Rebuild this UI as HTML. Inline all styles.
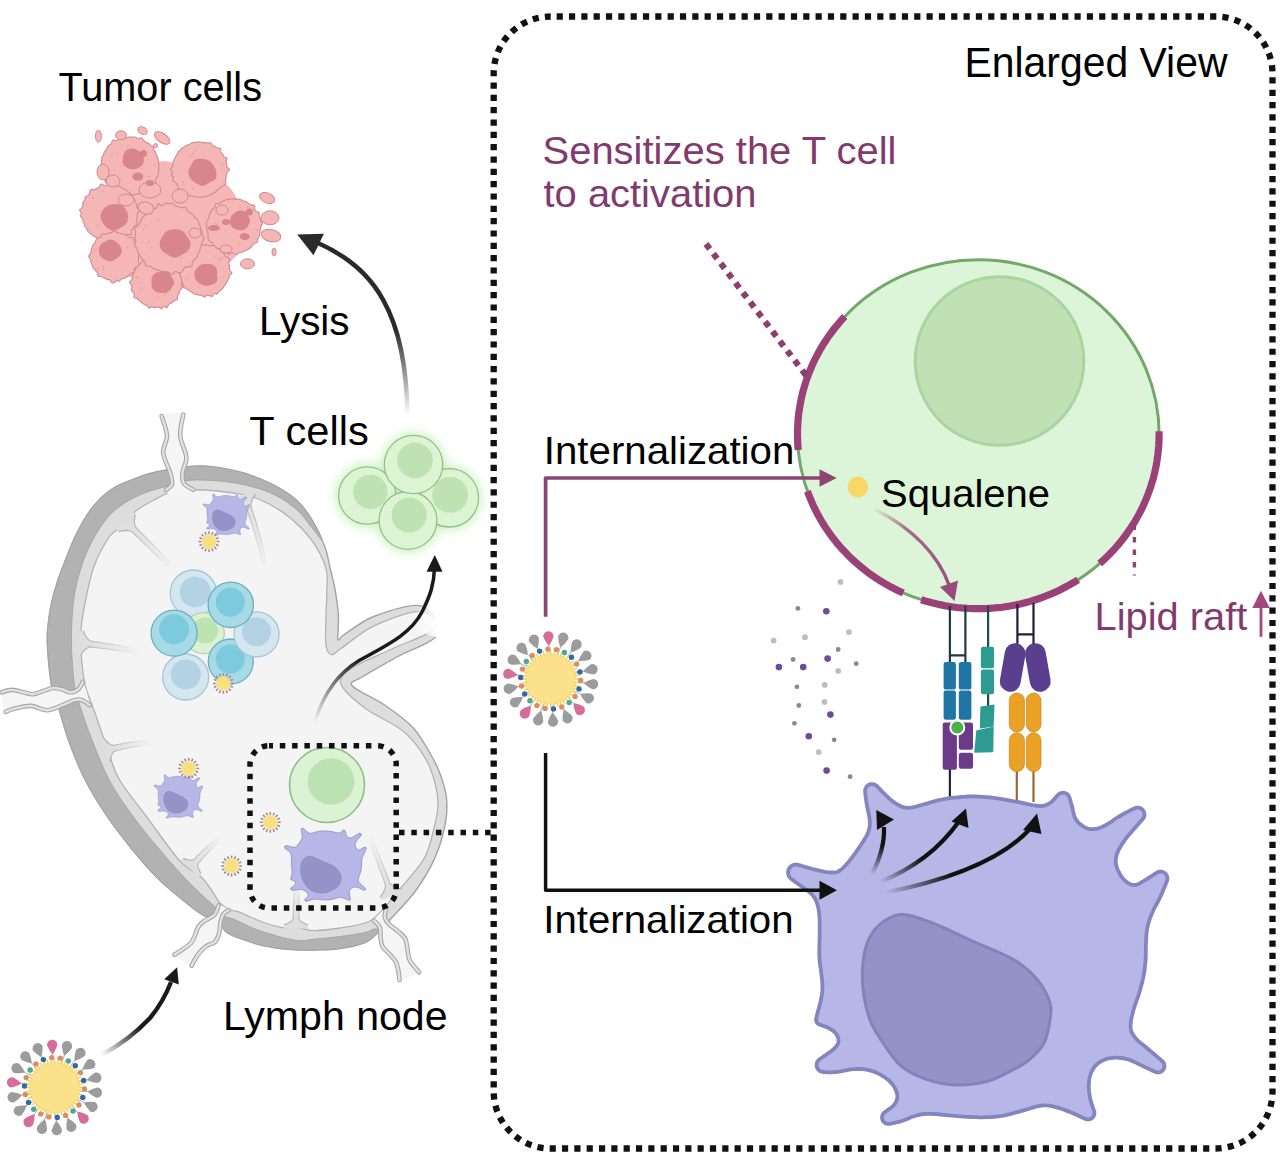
<!DOCTYPE html>
<html><head><meta charset="utf-8"><title>Squalene nanoparticle T cell activation</title>
<style>html,body{margin:0;padding:0;background:#fff;width:1280px;height:1163px;overflow:hidden}
svg{display:block}
text{font-family:"Liberation Sans", sans-serif}</style></head>
<body><svg width="1280" height="1163" viewBox="0 0 1280 1163"><defs>
<linearGradient id="lysisg" x1="0" y1="1" x2="0" y2="0" gradientUnits="objectBoundingBox">
 <stop offset="0" stop-color="#222" stop-opacity="0"/>
 <stop offset="0.35" stop-color="#222" stop-opacity="0.9"/>
 <stop offset="1" stop-color="#222"/>
</linearGradient>
<filter id="glow" x="-50%" y="-50%" width="200%" height="200%"><feGaussianBlur stdDeviation="6"/></filter>
<filter id="soft" x="-20%" y="-20%" width="140%" height="140%"><feGaussianBlur stdDeviation="0.6"/></filter>
<g id="np"><path d="M32.8,4.0 Q37.1,8.1 41.7,10.3 A5.2,5.2 0 1 0 42.9,-0.1 Q38.0,1.0 32.8,4.0 Z" fill="#9c9c9c"/>
<line x1="25.8" y1="3.1" x2="33.8" y2="4.1" stroke="#8fb8d8" stroke-width="1"/>
<path d="M29.4,14.9 Q32.1,20.3 35.6,23.9 A5.2,5.2 0 1 0 40.3,14.6 Q35.3,13.9 29.4,14.9 Z" fill="#9c9c9c"/>
<line x1="23.2" y1="11.8" x2="30.3" y2="15.4" stroke="#8fb8d8" stroke-width="1"/>
<path d="M22.6,24.1 Q23.2,30.0 25.3,34.6 A5.2,5.2 0 1 0 32.9,27.5 Q28.5,25.1 22.6,24.1 Z" fill="#d66d98"/>
<line x1="17.8" y1="19.0" x2="23.2" y2="24.8" stroke="#8fb8d8" stroke-width="1"/>
<path d="M13.0,30.3 Q11.5,36.2 11.9,41.2 A5.2,5.2 0 1 0 21.5,37.1 Q18.2,33.3 13.0,30.3 Z" fill="#9c9c9c"/>
<line x1="10.2" y1="23.9" x2="13.4" y2="31.3" stroke="#8fb8d8" stroke-width="1"/>
<path d="M1.8,33.0 Q-1.5,37.9 -2.9,42.8 A5.2,5.2 0 1 0 7.5,42.3 Q5.7,37.5 1.8,33.0 Z" fill="#9c9c9c"/>
<line x1="1.4" y1="26.0" x2="1.9" y2="33.9" stroke="#8fb8d8" stroke-width="1"/>
<path d="M-9.6,31.6 Q-14.4,35.1 -17.3,39.3 A5.2,5.2 0 1 0 -7.4,42.3 Q-7.5,37.2 -9.6,31.6 Z" fill="#9c9c9c"/>
<line x1="-7.5" y1="24.9" x2="-9.9" y2="32.5" stroke="#8fb8d8" stroke-width="1"/>
<path d="M-19.8,26.4 Q-25.6,28.1 -29.7,31.0 A5.2,5.2 0 1 0 -21.4,37.2 Q-19.8,32.4 -19.8,26.4 Z" fill="#d66d98"/>
<line x1="-15.6" y1="20.8" x2="-20.4" y2="27.2" stroke="#8fb8d8" stroke-width="1"/>
<path d="M-27.6,18.0 Q-33.6,17.6 -38.5,18.9 A5.2,5.2 0 1 0 -32.8,27.6 Q-29.7,23.7 -27.6,18.0 Z" fill="#9c9c9c"/>
<line x1="-21.8" y1="14.2" x2="-28.5" y2="18.6" stroke="#8fb8d8" stroke-width="1"/>
<path d="M-32.1,7.5 Q-37.6,5.1 -42.7,4.6 A5.2,5.2 0 1 0 -40.3,14.7 Q-36.0,12.1 -32.1,7.5 Z" fill="#9c9c9c"/>
<line x1="-25.3" y1="5.9" x2="-33.1" y2="7.7" stroke="#8fb8d8" stroke-width="1"/>
<path d="M-32.8,-4.0 Q-37.1,-8.1 -41.7,-10.3 A5.2,5.2 0 1 0 -42.9,0.1 Q-38.0,-1.0 -32.8,-4.0 Z" fill="#d66d98"/>
<line x1="-25.8" y1="-3.1" x2="-33.8" y2="-4.1" stroke="#8fb8d8" stroke-width="1"/>
<path d="M-29.4,-14.9 Q-32.1,-20.3 -35.6,-23.9 A5.2,5.2 0 1 0 -40.3,-14.6 Q-35.3,-13.9 -29.4,-14.9 Z" fill="#9c9c9c"/>
<line x1="-23.2" y1="-11.8" x2="-30.3" y2="-15.4" stroke="#8fb8d8" stroke-width="1"/>
<path d="M-22.6,-24.1 Q-23.2,-30.0 -25.3,-34.6 A5.2,5.2 0 1 0 -32.9,-27.5 Q-28.5,-25.1 -22.6,-24.1 Z" fill="#9c9c9c"/>
<line x1="-17.8" y1="-19.0" x2="-23.2" y2="-24.8" stroke="#8fb8d8" stroke-width="1"/>
<path d="M-13.0,-30.3 Q-11.5,-36.2 -11.9,-41.2 A5.2,5.2 0 1 0 -21.5,-37.1 Q-18.2,-33.3 -13.0,-30.3 Z" fill="#9c9c9c"/>
<line x1="-10.2" y1="-23.9" x2="-13.4" y2="-31.3" stroke="#8fb8d8" stroke-width="1"/>
<path d="M-1.8,-33.0 Q1.5,-37.9 2.9,-42.8 A5.2,5.2 0 1 0 -7.5,-42.3 Q-5.7,-37.5 -1.8,-33.0 Z" fill="#d66d98"/>
<line x1="-1.4" y1="-26.0" x2="-1.9" y2="-33.9" stroke="#8fb8d8" stroke-width="1"/>
<path d="M9.6,-31.6 Q14.4,-35.1 17.3,-39.3 A5.2,5.2 0 1 0 7.4,-42.3 Q7.5,-37.2 9.6,-31.6 Z" fill="#9c9c9c"/>
<line x1="7.5" y1="-24.9" x2="9.9" y2="-32.5" stroke="#8fb8d8" stroke-width="1"/>
<path d="M19.8,-26.4 Q25.6,-28.1 29.7,-31.0 A5.2,5.2 0 1 0 21.4,-37.2 Q19.8,-32.4 19.8,-26.4 Z" fill="#9c9c9c"/>
<line x1="15.6" y1="-20.8" x2="20.4" y2="-27.2" stroke="#8fb8d8" stroke-width="1"/>
<path d="M27.6,-18.0 Q33.6,-17.6 38.5,-18.9 A5.2,5.2 0 1 0 32.8,-27.6 Q29.7,-23.7 27.6,-18.0 Z" fill="#9c9c9c"/>
<line x1="21.8" y1="-14.2" x2="28.5" y2="-18.6" stroke="#8fb8d8" stroke-width="1"/>
<path d="M32.1,-7.5 Q37.6,-5.1 42.7,-4.6 A5.2,5.2 0 1 0 40.3,-14.7 Q36.0,-12.1 32.1,-7.5 Z" fill="#9c9c9c"/>
<line x1="25.3" y1="-5.9" x2="33.1" y2="-7.7" stroke="#8fb8d8" stroke-width="1"/>
<circle r="26" fill="#fbe49a"/>
<path d="M18.0,0.0 L29.0,0.0 M17.8,2.3 L28.8,3.8 M17.4,4.7 L28.0,7.5 M16.6,6.9 L26.8,11.1 M15.6,9.0 L25.1,14.5 M14.3,11.0 L23.0,17.7 M12.7,12.7 L20.5,20.5 M11.0,14.3 L17.7,23.0 M9.0,15.6 L14.5,25.1 M6.9,16.6 L11.1,26.8 M4.7,17.4 L7.5,28.0 M2.3,17.8 L3.8,28.8 M0.0,18.0 L0.0,29.0 M-2.3,17.8 L-3.8,28.8 M-4.7,17.4 L-7.5,28.0 M-6.9,16.6 L-11.1,26.8 M-9.0,15.6 L-14.5,25.1 M-11.0,14.3 L-17.7,23.0 M-12.7,12.7 L-20.5,20.5 M-14.3,11.0 L-23.0,17.7 M-15.6,9.0 L-25.1,14.5 M-16.6,6.9 L-26.8,11.1 M-17.4,4.7 L-28.0,7.5 M-17.8,2.3 L-28.8,3.8 M-18.0,0.0 L-29.0,0.0 M-17.8,-2.3 L-28.8,-3.8 M-17.4,-4.7 L-28.0,-7.5 M-16.6,-6.9 L-26.8,-11.1 M-15.6,-9.0 L-25.1,-14.5 M-14.3,-11.0 L-23.0,-17.7 M-12.7,-12.7 L-20.5,-20.5 M-11.0,-14.3 L-17.7,-23.0 M-9.0,-15.6 L-14.5,-25.1 M-6.9,-16.6 L-11.1,-26.8 M-4.7,-17.4 L-7.5,-28.0 M-2.3,-17.8 L-3.8,-28.8 M-0.0,-18.0 L-0.0,-29.0 M2.3,-17.8 L3.8,-28.8 M4.7,-17.4 L7.5,-28.0 M6.9,-16.6 L11.1,-26.8 M9.0,-15.6 L14.5,-25.1 M11.0,-14.3 L17.7,-23.0 M12.7,-12.7 L20.5,-20.5 M14.3,-11.0 L23.0,-17.7 M15.6,-9.0 L25.1,-14.5 M16.6,-6.9 L26.8,-11.1 M17.4,-4.7 L28.0,-7.5 M17.8,-2.3 L28.8,-3.8" stroke="#f3d06a" stroke-width="1.3"/>
<circle r="24" fill="#fbe28a"/>
<circle cx="30.0" cy="1.5" r="2.7" fill="#e08d5e"/>
<circle cx="28.3" cy="9.9" r="2.7" fill="#2f6aa6"/>
<circle cx="24.4" cy="17.5" r="2.7" fill="#e08d5e"/>
<circle cx="18.5" cy="23.6" r="2.7" fill="#4aa79b"/>
<circle cx="11.1" cy="27.9" r="2.7" fill="#e08d5e"/>
<circle cx="2.8" cy="29.9" r="2.7" fill="#2f6aa6"/>
<circle cx="-5.7" cy="29.4" r="2.7" fill="#e08d5e"/>
<circle cx="-13.8" cy="26.6" r="2.7" fill="#e08d5e"/>
<circle cx="-20.8" cy="21.7" r="2.7" fill="#4aa79b"/>
<circle cx="-26.0" cy="14.9" r="2.7" fill="#2f6aa6"/>
<circle cx="-29.2" cy="7.0" r="2.7" fill="#e08d5e"/>
<circle cx="-30.0" cy="-1.5" r="2.7" fill="#2f6aa6"/>
<circle cx="-28.3" cy="-9.9" r="2.7" fill="#e08d5e"/>
<circle cx="-24.4" cy="-17.5" r="2.7" fill="#4aa79b"/>
<circle cx="-18.5" cy="-23.6" r="2.7" fill="#e08d5e"/>
<circle cx="-11.1" cy="-27.9" r="2.7" fill="#2f6aa6"/>
<circle cx="-2.8" cy="-29.9" r="2.7" fill="#e08d5e"/>
<circle cx="5.7" cy="-29.4" r="2.7" fill="#e08d5e"/>
<circle cx="13.8" cy="-26.6" r="2.7" fill="#4aa79b"/>
<circle cx="20.8" cy="-21.7" r="2.7" fill="#2f6aa6"/>
<circle cx="26.0" cy="-14.9" r="2.7" fill="#e08d5e"/>
<circle cx="29.2" cy="-7.0" r="2.7" fill="#2f6aa6"/></g><g id="snp"><path d="M7.6,0.0 L10.4,0.0 M7.0,2.9 L9.6,4.0 M5.4,5.4 L7.4,7.4 M2.9,7.0 L4.0,9.6 M0.0,7.6 L0.0,10.4 M-2.9,7.0 L-4.0,9.6 M-5.4,5.4 L-7.4,7.4 M-7.0,2.9 L-9.6,4.0 M-7.6,0.0 L-10.4,0.0 M-7.0,-2.9 L-9.6,-4.0 M-5.4,-5.4 L-7.4,-7.4 M-2.9,-7.0 L-4.0,-9.6 M-0.0,-7.6 L-0.0,-10.4 M2.9,-7.0 L4.0,-9.6 M5.4,-5.4 L7.4,-7.4 M7.0,-2.9 L9.6,-4.0" stroke="#9c8596" stroke-width="1.5"/><path d="M0,0 L7.6,0.0 M0,0 L7.3,2.0 M0,0 L6.6,3.8 M0,0 L5.4,5.4 M0,0 L3.8,6.6 M0,0 L2.0,7.3 M0,0 L0.0,7.6 M0,0 L-2.0,7.3 M0,0 L-3.8,6.6 M0,0 L-5.4,5.4 M0,0 L-6.6,3.8 M0,0 L-7.3,2.0 M0,0 L-7.6,0.0 M0,0 L-7.3,-2.0 M0,0 L-6.6,-3.8 M0,0 L-5.4,-5.4 M0,0 L-3.8,-6.6 M0,0 L-2.0,-7.3 M0,0 L-0.0,-7.6 M0,0 L2.0,-7.3 M0,0 L3.8,-6.6 M0,0 L5.4,-5.4 M0,0 L6.6,-3.8 M0,0 L7.3,-2.0" stroke="#f6dc7a" stroke-width="1.2"/><circle r="6" fill="#f9e07f"/></g></defs>
<rect x="493.7" y="16.5" width="778.8" height="1132" rx="57" fill="none" stroke="#111" stroke-width="6.3" stroke-dasharray="6.2 6.13" stroke-dashoffset="6.4"/>
<path d="M165.2,470.2 C171.4,469.1 179.3,467.2 187.1,466.6 C194.9,466.0 202.6,465.6 211.9,466.6 C221.2,467.6 232.6,469.6 242.9,472.7 C253.2,475.8 264.8,480.5 273.8,485.1 C282.8,489.8 290.6,494.7 297.0,500.6 C303.4,506.5 307.9,513.0 312.5,520.7 C317.1,528.4 321.9,538.8 324.9,547.0 C327.9,555.2 328.9,563.2 330.5,570.0 C332.1,576.8 333.5,581.0 334.8,588.0 C336.1,595.0 337.6,605.0 338.2,612.0 C338.8,619.0 338.2,625.3 338.2,630.0 C338.2,634.7 336.9,639.3 338.0,640.0 C339.1,640.7 338.8,638.0 345.0,634.0 C351.2,630.0 362.3,620.7 375.0,616.0 C387.7,611.3 410.5,603.0 421.0,606.0 C431.5,609.0 442.2,625.4 438.0,634.0 C433.8,642.6 408.7,650.3 396.0,657.5 C383.3,664.7 369.3,672.2 362.0,677.0 C354.7,681.8 348.6,681.3 352.4,686.0 C356.1,690.7 374.4,698.1 384.5,705.0 C394.6,711.9 405.1,719.2 412.9,727.5 C420.6,735.8 426.4,747.1 431.0,755.0 C435.6,762.9 437.9,767.8 440.5,775.0 C443.1,782.2 445.7,790.0 446.5,798.0 C447.3,806.0 447.3,813.1 445.4,823.0 C443.5,832.9 440.0,846.2 435.1,857.4 C430.2,868.6 423.6,879.7 416.2,890.0 C408.8,900.3 396.8,912.3 390.4,919.3 C384.0,926.3 382.2,928.1 378.0,932.0 C373.8,935.9 371.3,939.8 365.0,942.5 C358.7,945.2 348.3,947.2 340.0,948.5 C331.7,949.8 321.7,949.8 315.0,950.0 C308.3,950.2 305.4,950.2 300.0,950.0 C294.6,949.8 287.5,949.3 282.5,948.8 C277.5,948.2 274.2,947.6 270.0,946.9 C265.8,946.2 261.7,945.5 257.5,944.4 C253.3,943.2 249.2,941.5 245.0,940.0 C240.8,938.5 236.0,937.3 232.5,935.6 C229.0,933.9 226.1,932.8 224.0,930.0 C221.9,927.2 223.4,921.4 220.0,919.0 C216.6,916.6 209.9,918.7 203.8,915.6 C197.7,912.5 190.9,906.7 183.2,900.4 C175.5,894.1 166.0,886.6 157.4,878.0 C148.8,869.4 140.2,859.4 131.6,848.8 C123.0,838.2 113.5,825.9 105.8,814.4 C98.1,802.9 91.4,792.2 85.2,780.0 C79.0,767.8 73.1,752.7 68.8,741.0 C64.5,729.3 62.2,719.2 59.3,710.0 C56.4,700.8 53.6,697.2 51.6,686.0 C49.6,674.8 47.8,653.5 47.3,643.0 C46.8,632.5 47.6,629.7 48.3,623.0 C49.0,616.3 50.0,609.7 51.5,603.0 C53.0,596.3 54.9,589.6 57.0,583.0 C59.1,576.4 60.9,571.6 64.1,563.5 C67.3,555.4 71.5,543.8 76.1,534.6 C80.7,525.4 85.8,515.8 91.8,508.2 C97.8,500.6 104.8,493.9 112.2,488.9 C119.6,483.9 130.0,480.7 136.3,478.1 C142.6,475.5 145.2,474.8 150.0,473.5 C154.8,472.2 159.0,471.3 165.2,470.2Z" fill="#dddddd" stroke="#a3a3a3" stroke-width="1.4"/>
<path d="M322.0,540.0 C322.0,538.7 316.7,527.3 312.5,520.7 C308.3,514.1 303.4,506.5 297.0,500.6 C290.6,494.7 282.8,489.8 273.8,485.1 C264.8,480.5 253.2,475.8 242.9,472.7 C232.6,469.6 221.2,467.6 211.9,466.6 C202.6,465.6 194.9,466.0 187.1,466.6 C179.3,467.2 171.4,469.1 165.2,470.2 C159.0,471.3 154.8,472.2 150.0,473.5 C145.2,474.8 142.6,475.5 136.3,478.1 C130.0,480.7 119.6,483.9 112.2,488.9 C104.8,493.9 97.8,500.6 91.8,508.2 C85.8,515.8 80.7,525.4 76.1,534.6 C71.5,543.8 67.3,555.4 64.1,563.5 C60.9,571.6 59.1,576.4 57.0,583.0 C54.9,589.6 53.0,596.3 51.5,603.0 C50.0,609.7 49.0,616.3 48.3,623.0 C47.6,629.7 46.8,632.5 47.3,643.0 C47.8,653.5 49.6,674.8 51.6,686.0 C53.6,697.2 56.4,700.8 59.3,710.0 C62.2,719.2 64.5,729.3 68.8,741.0 C73.1,752.7 79.0,767.8 85.2,780.0 C91.4,792.2 98.1,802.9 105.8,814.4 C113.5,825.9 123.0,838.2 131.6,848.8 C140.2,859.4 148.8,869.4 157.4,878.0 C166.0,886.6 175.5,894.1 183.2,900.4 C190.9,906.7 197.7,912.5 203.8,915.6 C209.9,918.7 216.6,916.6 220.0,919.0 C223.4,921.4 221.9,927.2 224.0,930.0 C226.1,932.8 229.0,933.9 232.5,935.6 C236.0,937.3 240.8,938.5 245.0,940.0 C249.2,941.5 253.3,943.2 257.5,944.4 C261.7,945.5 265.8,946.2 270.0,946.9 C274.2,947.6 277.5,948.2 282.5,948.8 C287.5,949.3 294.6,949.8 300.0,950.0 C305.4,950.2 308.3,950.2 315.0,950.0 C321.7,949.8 331.7,949.8 340.0,948.5 C348.3,947.2 358.3,945.4 365.0,942.5 C371.7,939.6 378.5,933.2 380.0,931.0 C381.5,928.8 376.5,928.8 374.0,929.0 C371.5,929.2 370.7,931.2 365.0,932.5 C359.3,933.8 348.3,935.4 340.0,936.5 C331.7,937.6 321.7,938.3 315.0,939.0 C308.3,939.7 305.4,940.9 300.0,940.6 C294.6,940.4 287.5,938.6 282.5,937.5 C277.5,936.4 274.2,935.0 270.0,933.8 C265.8,932.5 261.7,931.6 257.5,930.0 C253.3,928.4 249.2,926.3 245.0,924.4 C240.8,922.5 236.0,920.1 232.5,918.8 C229.0,917.4 227.1,918.1 224.0,916.0 C220.9,913.9 218.0,909.8 214.1,906.0 C210.2,902.2 205.6,898.5 200.4,893.5 C195.2,888.5 190.4,884.0 183.2,876.3 C176.0,868.5 166.0,857.3 157.4,847.0 C148.8,836.7 139.6,825.6 131.6,814.4 C123.6,803.2 116.0,792.8 109.2,780.0 C102.5,767.2 96.1,750.4 91.1,737.6 C86.1,724.8 81.8,711.5 79.1,703.2 C76.4,694.9 76.1,697.7 74.8,687.7 C73.5,677.7 71.6,657.6 71.4,643.0 C71.2,628.4 72.1,612.5 73.7,600.0 C75.3,587.5 77.9,578.0 80.9,568.3 C83.9,558.6 87.4,550.3 91.8,541.9 C96.2,533.5 102.0,524.2 107.4,517.8 C112.8,511.4 117.9,507.5 124.3,503.3 C130.7,499.1 138.7,495.4 145.9,492.5 C153.1,489.6 160.7,488.0 167.6,486.0 C174.5,484.0 179.7,481.4 187.1,480.5 C194.5,479.6 202.6,479.9 211.9,480.5 C221.2,481.1 232.6,482.1 242.9,484.4 C253.2,486.7 264.8,490.1 273.8,494.4 C282.8,498.6 290.6,504.2 297.0,509.9 C303.4,515.6 308.3,523.5 312.5,528.5 C316.7,533.5 322.0,541.3 322.0,540.0Z" fill="#b2b2b2" stroke="#a0a0a0" stroke-width="0.8"/>
<path d="M172.4,491.3 C178.4,489.7 183.6,489.9 190.2,489.8 C196.8,489.7 203.4,489.7 211.9,490.5 C220.4,491.3 233.6,493.0 241.3,494.4 C249.0,495.8 251.6,496.2 258.3,499.0 C265.0,501.8 274.4,506.5 281.6,511.4 C288.8,516.3 295.8,522.3 301.7,528.5 C307.6,534.7 313.1,541.6 317.2,548.6 C321.3,555.6 324.8,563.4 326.4,570.3 C328.0,577.2 327.0,582.1 326.9,590.0 C326.8,597.9 326.2,608.6 326.0,617.8 C325.8,627.0 325.0,638.9 325.9,645.0 C326.8,651.1 329.1,654.1 331.6,654.7 C334.1,655.3 333.8,653.4 341.0,648.5 C348.2,643.6 361.7,631.6 375.0,625.4 C388.3,619.2 411.2,610.9 421.0,611.5 C430.8,612.1 438.5,622.9 434.0,629.0 C429.5,635.1 407.7,641.5 394.0,648.0 C380.3,654.5 360.8,662.0 352.0,668.0 C343.2,674.0 338.7,677.2 341.0,684.0 C343.3,690.8 355.2,700.7 365.6,708.6 C376.0,716.5 393.3,722.8 403.4,731.3 C413.5,739.8 420.8,750.6 426.1,759.6 C431.5,768.6 433.5,777.4 435.5,785.0 C437.5,792.6 438.1,798.7 438.0,805.0 C437.9,811.3 437.3,814.3 435.1,823.0 C432.9,831.7 430.8,846.2 424.8,857.4 C418.8,868.6 406.9,880.4 399.0,890.0 C391.1,899.6 383.2,909.5 377.5,915.0 C371.8,920.5 371.2,920.8 365.0,923.0 C358.8,925.2 348.3,926.7 340.0,928.0 C331.7,929.3 321.2,930.5 315.0,930.6 C308.8,930.7 306.4,929.2 302.5,928.5 C298.6,927.8 294.7,926.6 291.9,926.5 C289.1,926.4 288.2,928.0 285.6,928.0 C283.0,928.0 279.9,927.2 276.3,926.3 C272.7,925.4 268.0,924.0 263.8,922.5 C259.6,921.0 255.5,919.3 251.3,917.5 C247.1,915.7 242.5,913.2 238.8,911.9 C235.1,910.6 232.1,911.0 229.0,909.5 C225.9,908.0 223.2,906.6 220.0,903.0 C216.8,899.4 213.3,892.5 210.0,888.0 C206.7,883.5 205.5,880.8 200.4,876.3 C195.3,871.8 188.3,870.2 179.7,860.8 C171.1,851.3 158.8,833.1 148.8,819.6 C138.8,806.1 126.3,791.4 119.6,780.0 C112.8,768.6 112.5,762.7 108.3,751.3 C104.1,739.9 98.6,723.5 94.6,711.8 C90.6,700.0 86.6,693.7 84.3,680.8 C82.0,667.9 80.6,647.9 80.8,634.4 C81.0,620.9 83.5,611.4 85.7,600.0 C87.9,588.6 90.6,576.0 94.2,565.9 C97.8,555.8 103.8,545.4 107.4,539.5 C111.0,533.6 112.7,533.4 116.0,530.5 C119.3,527.6 123.6,525.3 127.0,522.0 C130.4,518.7 131.7,514.3 136.3,510.6 C140.9,506.9 148.4,502.9 154.4,499.7 C160.4,496.5 166.4,492.9 172.4,491.3Z" fill="#f4f4f4" stroke="#b3b3b3" stroke-width="1.3"/>
<defs><linearGradient id="effg" gradientUnits="userSpaceOnUse" x1="412" y1="0" x2="436" y2="0"><stop offset="0" stop-color="#fff" stop-opacity="0"/><stop offset="1" stop-color="#fff"/></linearGradient></defs>
<path d="M416,613 L424,604 L446,604 L446,640 L433,636 L418,632 Z" fill="url(#effg)"/>
<defs><linearGradient id="tb1f" gradientUnits="userSpaceOnUse" x1="127.0" y1="523.0" x2="174.0" y2="570.0"><stop offset="0" stop-color="#dedede"/><stop offset="0.55" stop-color="#e8e8e8"/><stop offset="1" stop-color="#f4f4f4"/></linearGradient><linearGradient id="tb1s" gradientUnits="userSpaceOnUse" x1="127.0" y1="523.0" x2="174.0" y2="570.0"><stop offset="0" stop-color="#b0b0b0"/><stop offset="0.5" stop-color="#c6c6c6" stop-opacity="0.7"/><stop offset="1" stop-color="#d6d6d6" stop-opacity="0"/></linearGradient></defs>
<path d="M116.2,529.2 L118.7,531.7 L123.4,530.6 L127.2,530.4 L130.4,531.0 L132.7,532.5 L134.6,534.3 L136.6,536.2 L138.6,538.1 L140.5,540.0 L142.5,541.9 L144.4,543.8 L146.4,545.7 L148.4,547.6 L150.4,549.5 L152.4,551.5 L154.3,553.5 L156.3,555.4 L158.3,557.4 L160.3,559.4 L162.3,561.4 L164.3,563.4 L166.3,565.4 L168.3,567.5 L170.4,569.5 L172.4,571.6 L175.6,568.4 L173.6,566.3 L171.7,564.2 L169.7,562.2 L167.7,560.1 L165.8,558.0 L163.8,556.0 L161.8,553.9 L159.9,551.9 L157.9,549.9 L156.0,547.9 L154.0,545.9 L152.1,543.9 L150.2,541.9 L148.2,539.9 L146.3,538.0 L144.4,536.0 L142.5,534.1 L140.5,532.2 L138.6,530.3 L136.7,528.4 L135.2,526.1 L134.4,523.0 L134.5,519.0 L135.3,514.3 L132.8,511.9Z" fill="url(#tb1f)"/>
<path d="M118.7,531.7 L123.4,530.6 L127.2,530.4 L130.4,531.0 L132.7,532.5 L134.6,534.3 L136.6,536.2 L138.6,538.1 L140.5,540.0 L142.5,541.9 L144.4,543.8 L146.4,545.7 L148.4,547.6 L150.4,549.5 L152.4,551.5 L154.3,553.5 L156.3,555.4 L158.3,557.4 L160.3,559.4 L162.3,561.4 L164.3,563.4 L166.3,565.4 L168.3,567.5 L170.4,569.5 L172.4,571.6" fill="none" stroke="url(#tb1s)" stroke-width="1.2"/>
<path d="M135.3,514.3 L134.5,519.0 L134.4,523.0 L135.2,526.1 L136.7,528.4 L138.6,530.3 L140.5,532.2 L142.5,534.1 L144.4,536.0 L146.3,538.0 L148.2,539.9 L150.2,541.9 L152.1,543.9 L154.0,545.9 L156.0,547.9 L157.9,549.9 L159.9,551.9 L161.8,553.9 L163.8,556.0 L165.8,558.0 L167.7,560.1 L169.7,562.2 L171.7,564.2 L173.6,566.3 L175.6,568.4" fill="none" stroke="url(#tb1s)" stroke-width="1.2"/>
<defs><linearGradient id="tb2f" gradientUnits="userSpaceOnUse" x1="245.0" y1="498.0" x2="266.0" y2="572.0"><stop offset="0" stop-color="#dedede"/><stop offset="0.55" stop-color="#e8e8e8"/><stop offset="1" stop-color="#f4f4f4"/></linearGradient><linearGradient id="tb2s" gradientUnits="userSpaceOnUse" x1="245.0" y1="498.0" x2="266.0" y2="572.0"><stop offset="0" stop-color="#b0b0b0"/><stop offset="0.5" stop-color="#c6c6c6" stop-opacity="0.7"/><stop offset="1" stop-color="#d6d6d6" stop-opacity="0"/></linearGradient></defs>
<path d="M233.0,499.0 L234.3,502.3 L239.1,503.5 L242.7,505.1 L245.4,507.2 L246.9,509.8 L248.0,512.6 L249.0,515.4 L250.0,518.2 L250.9,521.1 L251.9,524.1 L252.8,527.0 L253.7,530.1 L254.6,533.1 L255.5,536.2 L256.4,539.3 L257.3,542.4 L258.1,545.6 L258.9,548.8 L259.7,552.1 L260.5,555.4 L261.3,558.7 L262.0,562.1 L262.7,565.5 L263.5,568.9 L264.2,572.4 L267.8,571.6 L267.2,568.1 L266.5,564.7 L265.8,561.3 L265.1,557.9 L264.4,554.5 L263.7,551.2 L262.9,547.9 L262.1,544.6 L261.3,541.4 L260.5,538.2 L259.7,535.0 L258.9,531.9 L258.0,528.8 L257.1,525.8 L256.2,522.7 L255.3,519.7 L254.4,516.8 L253.4,513.9 L252.4,511.0 L251.4,508.1 L251.0,505.1 L251.5,501.7 L253.1,497.9 L255.7,493.7 L254.4,490.5Z" fill="url(#tb2f)"/>
<path d="M234.3,502.3 L239.1,503.5 L242.7,505.1 L245.4,507.2 L246.9,509.8 L248.0,512.6 L249.0,515.4 L250.0,518.2 L250.9,521.1 L251.9,524.1 L252.8,527.0 L253.7,530.1 L254.6,533.1 L255.5,536.2 L256.4,539.3 L257.3,542.4 L258.1,545.6 L258.9,548.8 L259.7,552.1 L260.5,555.4 L261.3,558.7 L262.0,562.1 L262.7,565.5 L263.5,568.9 L264.2,572.4" fill="none" stroke="url(#tb2s)" stroke-width="1.2"/>
<path d="M255.7,493.7 L253.1,497.9 L251.5,501.7 L251.0,505.1 L251.4,508.1 L252.4,511.0 L253.4,513.9 L254.4,516.8 L255.3,519.7 L256.2,522.7 L257.1,525.8 L258.0,528.8 L258.9,531.9 L259.7,535.0 L260.5,538.2 L261.3,541.4 L262.1,544.6 L262.9,547.9 L263.7,551.2 L264.4,554.5 L265.1,557.9 L265.8,561.3 L266.5,564.7 L267.2,568.1 L267.8,571.6" fill="none" stroke="url(#tb2s)" stroke-width="1.2"/>
<defs><linearGradient id="tb3f" gradientUnits="userSpaceOnUse" x1="82.0" y1="643.0" x2="140.0" y2="652.0"><stop offset="0" stop-color="#dedede"/><stop offset="0.55" stop-color="#e8e8e8"/><stop offset="1" stop-color="#f4f4f4"/></linearGradient><linearGradient id="tb3s" gradientUnits="userSpaceOnUse" x1="82.0" y1="643.0" x2="140.0" y2="652.0"><stop offset="0" stop-color="#b0b0b0"/><stop offset="0.5" stop-color="#c6c6c6" stop-opacity="0.7"/><stop offset="1" stop-color="#d6d6d6" stop-opacity="0"/></linearGradient></defs>
<path d="M77.2,654.5 L80.7,654.9 L83.4,651.2 L86.1,648.7 L88.6,647.2 L91.0,646.9 L93.4,647.2 L95.8,647.5 L98.1,647.8 L100.5,648.1 L102.9,648.4 L105.3,648.7 L107.7,649.0 L110.1,649.3 L112.5,649.7 L114.9,650.1 L117.4,650.4 L119.8,650.8 L122.2,651.2 L124.7,651.6 L127.2,652.0 L129.6,652.4 L132.1,652.8 L134.6,653.3 L137.1,653.7 L139.6,654.2 L140.4,649.8 L137.9,649.3 L135.5,648.8 L133.0,648.2 L130.5,647.7 L128.0,647.3 L125.6,646.8 L123.1,646.3 L120.6,645.9 L118.2,645.4 L115.8,645.0 L113.3,644.6 L110.9,644.2 L108.5,643.8 L106.1,643.4 L103.7,643.0 L101.3,642.6 L98.9,642.2 L96.5,641.9 L94.1,641.6 L91.7,641.2 L89.4,640.4 L87.3,638.4 L85.2,635.3 L83.3,631.1 L79.8,630.7Z" fill="url(#tb3f)"/>
<path d="M80.7,654.9 L83.4,651.2 L86.1,648.7 L88.6,647.2 L91.0,646.9 L93.4,647.2 L95.8,647.5 L98.1,647.8 L100.5,648.1 L102.9,648.4 L105.3,648.7 L107.7,649.0 L110.1,649.3 L112.5,649.7 L114.9,650.1 L117.4,650.4 L119.8,650.8 L122.2,651.2 L124.7,651.6 L127.2,652.0 L129.6,652.4 L132.1,652.8 L134.6,653.3 L137.1,653.7 L139.6,654.2" fill="none" stroke="url(#tb3s)" stroke-width="1.2"/>
<path d="M83.3,631.1 L85.2,635.3 L87.3,638.4 L89.4,640.4 L91.7,641.2 L94.1,641.6 L96.5,641.9 L98.9,642.2 L101.3,642.6 L103.7,643.0 L106.1,643.4 L108.5,643.8 L110.9,644.2 L113.3,644.6 L115.8,645.0 L118.2,645.4 L120.6,645.9 L123.1,646.3 L125.6,646.8 L128.0,647.3 L130.5,647.7 L133.0,648.2 L135.5,648.8 L137.9,649.3 L140.4,649.8" fill="none" stroke="url(#tb3s)" stroke-width="1.2"/>
<defs><linearGradient id="tb4f" gradientUnits="userSpaceOnUse" x1="107.0" y1="750.0" x2="152.0" y2="742.0"><stop offset="0" stop-color="#dedede"/><stop offset="0.55" stop-color="#e8e8e8"/><stop offset="1" stop-color="#f4f4f4"/></linearGradient><linearGradient id="tb4s" gradientUnits="userSpaceOnUse" x1="107.0" y1="750.0" x2="152.0" y2="742.0"><stop offset="0" stop-color="#b0b0b0"/><stop offset="0.5" stop-color="#c6c6c6" stop-opacity="0.7"/><stop offset="1" stop-color="#d6d6d6" stop-opacity="0"/></linearGradient></defs>
<path d="M106.6,762.5 L110.0,761.6 L110.9,757.3 L112.1,754.1 L113.5,751.9 L115.3,750.9 L117.2,750.4 L119.0,750.0 L120.9,749.6 L122.8,749.1 L124.6,748.7 L126.5,748.3 L128.4,748.0 L130.2,747.6 L132.1,747.2 L133.9,746.9 L135.8,746.6 L137.6,746.3 L139.4,746.0 L141.3,745.7 L143.1,745.4 L144.9,745.1 L146.7,744.9 L148.6,744.7 L150.4,744.4 L152.2,744.2 L151.8,739.8 L149.9,739.9 L148.1,740.1 L146.2,740.2 L144.4,740.4 L142.5,740.6 L140.6,740.8 L138.7,741.1 L136.9,741.3 L135.0,741.6 L133.1,741.8 L131.2,742.1 L129.3,742.4 L127.4,742.7 L125.5,743.1 L123.6,743.4 L121.7,743.8 L119.8,744.1 L117.8,744.5 L115.9,744.9 L114.0,745.3 L111.9,745.2 L109.6,744.0 L106.9,741.7 L104.0,738.4 L100.6,739.3Z" fill="url(#tb4f)"/>
<path d="M110.0,761.6 L110.9,757.3 L112.1,754.1 L113.5,751.9 L115.3,750.9 L117.2,750.4 L119.0,750.0 L120.9,749.6 L122.8,749.1 L124.6,748.7 L126.5,748.3 L128.4,748.0 L130.2,747.6 L132.1,747.2 L133.9,746.9 L135.8,746.6 L137.6,746.3 L139.4,746.0 L141.3,745.7 L143.1,745.4 L144.9,745.1 L146.7,744.9 L148.6,744.7 L150.4,744.4 L152.2,744.2" fill="none" stroke="url(#tb4s)" stroke-width="1.2"/>
<path d="M104.0,738.4 L106.9,741.7 L109.6,744.0 L111.9,745.2 L114.0,745.3 L115.9,744.9 L117.8,744.5 L119.8,744.1 L121.7,743.8 L123.6,743.4 L125.5,743.1 L127.4,742.7 L129.3,742.4 L131.2,742.1 L133.1,741.8 L135.0,741.6 L136.9,741.3 L138.7,741.1 L140.6,740.8 L142.5,740.6 L144.4,740.4 L146.2,740.2 L148.1,740.1 L149.9,739.9 L151.8,739.8" fill="none" stroke="url(#tb4s)" stroke-width="1.2"/>
<defs><linearGradient id="tb5f" gradientUnits="userSpaceOnUse" x1="192.0" y1="866.0" x2="220.0" y2="838.0"><stop offset="0" stop-color="#dedede"/><stop offset="0.55" stop-color="#e8e8e8"/><stop offset="1" stop-color="#f4f4f4"/></linearGradient><linearGradient id="tb5s" gradientUnits="userSpaceOnUse" x1="192.0" y1="866.0" x2="220.0" y2="838.0"><stop offset="0" stop-color="#b0b0b0"/><stop offset="0.5" stop-color="#c6c6c6" stop-opacity="0.7"/><stop offset="1" stop-color="#d6d6d6" stop-opacity="0"/></linearGradient></defs>
<path d="M198.8,876.5 L201.1,873.8 L199.1,870.1 L197.9,867.1 L197.6,864.8 L198.2,863.3 L199.3,862.1 L200.3,860.9 L201.4,859.7 L202.4,858.6 L203.5,857.4 L204.6,856.2 L205.7,855.0 L206.9,853.9 L208.0,852.7 L209.2,851.5 L210.3,850.3 L211.5,849.1 L212.7,848.0 L213.9,846.8 L215.1,845.6 L216.4,844.4 L217.6,843.2 L218.9,842.1 L220.2,840.9 L221.5,839.7 L218.5,836.3 L217.2,837.5 L215.8,838.6 L214.5,839.8 L213.2,840.9 L211.9,842.1 L210.6,843.2 L209.3,844.4 L208.1,845.5 L206.8,846.7 L205.6,847.8 L204.4,849.0 L203.1,850.1 L202.0,851.3 L200.8,852.5 L199.6,853.6 L198.5,854.8 L197.3,855.9 L196.2,857.1 L195.1,858.2 L194.0,859.4 L192.5,860.2 L190.1,860.2 L186.9,859.6 L182.9,858.2 L180.6,860.8Z" fill="url(#tb5f)"/>
<path d="M201.1,873.8 L199.1,870.1 L197.9,867.1 L197.6,864.8 L198.2,863.3 L199.3,862.1 L200.3,860.9 L201.4,859.7 L202.4,858.6 L203.5,857.4 L204.6,856.2 L205.7,855.0 L206.9,853.9 L208.0,852.7 L209.2,851.5 L210.3,850.3 L211.5,849.1 L212.7,848.0 L213.9,846.8 L215.1,845.6 L216.4,844.4 L217.6,843.2 L218.9,842.1 L220.2,840.9 L221.5,839.7" fill="none" stroke="url(#tb5s)" stroke-width="1.2"/>
<path d="M182.9,858.2 L186.9,859.6 L190.1,860.2 L192.5,860.2 L194.0,859.4 L195.1,858.2 L196.2,857.1 L197.3,855.9 L198.5,854.8 L199.6,853.6 L200.8,852.5 L202.0,851.3 L203.1,850.1 L204.4,849.0 L205.6,847.8 L206.8,846.7 L208.1,845.5 L209.3,844.4 L210.6,843.2 L211.9,842.1 L213.2,840.9 L214.5,839.8 L215.8,838.6 L217.2,837.5 L218.5,836.3" fill="none" stroke="url(#tb5s)" stroke-width="1.2"/>
<defs><linearGradient id="tb6f" gradientUnits="userSpaceOnUse" x1="296.0" y1="925.0" x2="297.0" y2="880.0"><stop offset="0" stop-color="#dedede"/><stop offset="0.55" stop-color="#e8e8e8"/><stop offset="1" stop-color="#f4f4f4"/></linearGradient><linearGradient id="tb6s" gradientUnits="userSpaceOnUse" x1="296.0" y1="925.0" x2="297.0" y2="880.0"><stop offset="0" stop-color="#b0b0b0"/><stop offset="0.5" stop-color="#c6c6c6" stop-opacity="0.7"/><stop offset="1" stop-color="#d6d6d6" stop-opacity="0"/></linearGradient></defs>
<path d="M308.0,928.5 L308.0,925.0 L304.0,923.3 L301.2,921.7 L299.5,919.9 L298.9,918.2 L298.9,916.5 L298.9,914.7 L298.9,912.9 L298.9,911.2 L298.9,909.3 L298.9,907.5 L298.9,905.7 L298.9,903.8 L298.9,901.9 L298.9,900.0 L298.9,898.1 L298.9,896.2 L299.0,894.2 L299.0,892.3 L299.0,890.3 L299.1,888.3 L299.1,886.3 L299.2,884.2 L299.2,882.2 L299.2,880.1 L294.8,879.9 L294.6,882.0 L294.5,884.0 L294.4,886.1 L294.3,888.1 L294.2,890.1 L294.1,892.1 L294.0,894.1 L293.9,896.0 L293.9,898.0 L293.8,899.9 L293.7,901.8 L293.6,903.7 L293.6,905.6 L293.5,907.4 L293.4,909.3 L293.4,911.1 L293.3,912.9 L293.3,914.7 L293.2,916.4 L293.2,918.2 L292.5,919.9 L290.8,921.6 L288.0,923.3 L284.0,925.0 L284.0,928.5Z" fill="url(#tb6f)"/>
<path d="M308.0,925.0 L304.0,923.3 L301.2,921.7 L299.5,919.9 L298.9,918.2 L298.9,916.5 L298.9,914.7 L298.9,912.9 L298.9,911.2 L298.9,909.3 L298.9,907.5 L298.9,905.7 L298.9,903.8 L298.9,901.9 L298.9,900.0 L298.9,898.1 L298.9,896.2 L299.0,894.2 L299.0,892.3 L299.0,890.3 L299.1,888.3 L299.1,886.3 L299.2,884.2 L299.2,882.2 L299.2,880.1" fill="none" stroke="url(#tb6s)" stroke-width="1.2"/>
<path d="M284.0,925.0 L288.0,923.3 L290.8,921.6 L292.5,919.9 L293.2,918.2 L293.2,916.4 L293.3,914.7 L293.3,912.9 L293.4,911.1 L293.4,909.3 L293.5,907.4 L293.6,905.6 L293.6,903.7 L293.7,901.8 L293.8,899.9 L293.9,898.0 L293.9,896.0 L294.0,894.1 L294.1,892.1 L294.2,890.1 L294.3,888.1 L294.4,886.1 L294.5,884.0 L294.6,882.0 L294.8,879.9" fill="none" stroke="url(#tb6s)" stroke-width="1.2"/>
<defs><linearGradient id="tb7f" gradientUnits="userSpaceOnUse" x1="391.0" y1="893.0" x2="369.0" y2="835.0"><stop offset="0" stop-color="#dedede"/><stop offset="0.55" stop-color="#e8e8e8"/><stop offset="1" stop-color="#f4f4f4"/></linearGradient><linearGradient id="tb7s" gradientUnits="userSpaceOnUse" x1="391.0" y1="893.0" x2="369.0" y2="835.0"><stop offset="0" stop-color="#b0b0b0"/><stop offset="0.5" stop-color="#c6c6c6" stop-opacity="0.7"/><stop offset="1" stop-color="#d6d6d6" stop-opacity="0"/></linearGradient></defs>
<path d="M403.0,892.3 L401.8,889.0 L397.2,887.9 L393.6,886.4 L391.0,884.5 L389.6,882.2 L388.6,879.8 L387.7,877.3 L386.8,874.9 L385.8,872.4 L384.9,870.0 L383.9,867.6 L383.0,865.1 L382.0,862.7 L381.1,860.3 L380.2,857.9 L379.2,855.5 L378.3,853.1 L377.3,850.8 L376.4,848.4 L375.5,846.0 L374.5,843.7 L373.6,841.3 L372.6,839.0 L371.7,836.6 L370.7,834.3 L367.3,835.7 L368.1,838.0 L369.0,840.4 L369.9,842.7 L370.8,845.1 L371.7,847.5 L372.6,849.9 L373.5,852.2 L374.4,854.6 L375.3,857.0 L376.2,859.4 L377.1,861.9 L378.0,864.3 L378.8,866.7 L379.7,869.1 L380.6,871.6 L381.5,874.0 L382.4,876.5 L383.3,878.9 L384.2,881.4 L385.1,883.9 L385.5,886.6 L384.8,889.6 L383.0,893.1 L380.2,897.0 L381.4,900.2Z" fill="url(#tb7f)"/>
<path d="M401.8,889.0 L397.2,887.9 L393.6,886.4 L391.0,884.5 L389.6,882.2 L388.6,879.8 L387.7,877.3 L386.8,874.9 L385.8,872.4 L384.9,870.0 L383.9,867.6 L383.0,865.1 L382.0,862.7 L381.1,860.3 L380.2,857.9 L379.2,855.5 L378.3,853.1 L377.3,850.8 L376.4,848.4 L375.5,846.0 L374.5,843.7 L373.6,841.3 L372.6,839.0 L371.7,836.6 L370.7,834.3" fill="none" stroke="url(#tb7s)" stroke-width="1.2"/>
<path d="M380.2,897.0 L383.0,893.1 L384.8,889.6 L385.5,886.6 L385.1,883.9 L384.2,881.4 L383.3,878.9 L382.4,876.5 L381.5,874.0 L380.6,871.6 L379.7,869.1 L378.8,866.7 L378.0,864.3 L377.1,861.9 L376.2,859.4 L375.3,857.0 L374.4,854.6 L373.5,852.2 L372.6,849.9 L371.7,847.5 L370.8,845.1 L369.9,842.7 L369.0,840.4 L368.1,838.0 L367.3,835.7" fill="none" stroke="url(#tb7s)" stroke-width="1.2"/>
<path d="M161.6,416.0 C158.9,419.5 166.7,429.5 167.0,435.6 C167.3,441.7 162.7,446.4 163.2,452.6 C163.7,458.8 168.6,467.5 170.1,472.7 C171.6,477.9 172.7,481.1 172.0,484.0 C171.3,486.9 166.0,488.0 166.0,490.0 C166.0,492.0 168.3,495.0 172.0,496.0 C175.7,497.0 184.4,497.0 188.0,496.0 C191.6,495.0 194.0,491.9 193.3,489.8 C192.6,487.7 185.8,486.5 184.0,483.6 C182.2,480.8 182.1,477.1 182.5,472.7 C182.9,468.3 186.8,463.5 186.4,457.3 C186.0,451.1 180.7,442.7 180.2,435.6 C179.7,428.5 186.4,417.8 183.3,414.5 C180.2,411.2 164.3,412.5 161.6,416.0Z" fill="#f5f5f5"/>
<path d="M161.6,416.0 C162.5,419.3 166.7,429.5 167.0,435.6 C167.3,441.7 162.7,446.4 163.2,452.6 C163.7,458.8 168.6,467.5 170.1,472.7 C171.6,477.9 172.7,481.1 172.0,484.0 C171.3,486.9 167.0,489.0 166.0,490.0" fill="none" stroke="#a6a6a6" stroke-width="4.6" stroke-linecap="round"/>
<path d="M161.6,416.0 C162.5,419.3 166.7,429.5 167.0,435.6 C167.3,441.7 162.7,446.4 163.2,452.6 C163.7,458.8 168.6,467.5 170.1,472.7 C171.6,477.9 172.7,481.1 172.0,484.0 C171.3,486.9 167.0,489.0 166.0,490.0" fill="none" stroke="#e2e2e2" stroke-width="2.4" stroke-linecap="round"/>
<path d="M183.3,414.5 C182.8,418.0 179.7,428.5 180.2,435.6 C180.7,442.7 186.0,451.1 186.4,457.3 C186.8,463.5 182.9,468.3 182.5,472.7 C182.1,477.1 182.2,480.8 184.0,483.6 C185.8,486.5 191.8,488.8 193.3,489.8" fill="none" stroke="#a6a6a6" stroke-width="4.6" stroke-linecap="round"/>
<path d="M183.3,414.5 C182.8,418.0 179.7,428.5 180.2,435.6 C180.7,442.7 186.0,451.1 186.4,457.3 C186.8,463.5 182.9,468.3 182.5,472.7 C182.1,477.1 182.2,480.8 184.0,483.6 C185.8,486.5 191.8,488.8 193.3,489.8" fill="none" stroke="#e2e2e2" stroke-width="2.4" stroke-linecap="round"/>
<path d="M1.6,692.3 C2.6,688.6 8.1,689.9 11.7,689.9 C15.3,689.9 19.9,691.6 23.4,692.3 C26.9,693.0 29.5,694.4 32.8,694.2 C36.1,694.0 39.6,692.1 43.0,691.1 C46.4,690.1 49.9,688.3 53.1,688.0 C56.4,687.7 59.6,688.8 62.5,689.5 C65.4,690.2 67.7,692.3 70.3,692.3 C72.9,692.3 76.0,691.3 78.1,689.5 C80.2,687.7 80.8,679.1 82.8,681.7 C84.8,684.3 89.9,702.1 89.8,705.2 C89.7,708.3 84.6,701.0 82.0,700.1 C79.4,699.2 77.5,699.2 74.2,700.1 C71.0,701.0 67.0,703.5 62.5,705.2 C58.0,706.9 52.1,710.1 46.9,710.2 C41.7,710.3 36.5,706.2 31.3,705.9 C26.1,705.6 19.9,707.3 15.6,708.3 C11.3,709.3 7.8,714.5 5.5,711.8 C3.2,709.1 0.6,695.9 1.6,692.3Z" fill="#f5f5f5"/>
<path d="M1.6,692.3 C3.3,691.9 8.1,689.9 11.7,689.9 C15.3,689.9 19.9,691.6 23.4,692.3 C26.9,693.0 29.5,694.4 32.8,694.2 C36.1,694.0 39.6,692.1 43.0,691.1 C46.4,690.1 49.9,688.3 53.1,688.0 C56.4,687.7 59.6,688.8 62.5,689.5 C65.4,690.2 67.7,692.3 70.3,692.3 C72.9,692.3 76.0,691.3 78.1,689.5 C80.2,687.7 82.0,683.0 82.8,681.7" fill="none" stroke="#a6a6a6" stroke-width="4.6" stroke-linecap="round"/>
<path d="M1.6,692.3 C3.3,691.9 8.1,689.9 11.7,689.9 C15.3,689.9 19.9,691.6 23.4,692.3 C26.9,693.0 29.5,694.4 32.8,694.2 C36.1,694.0 39.6,692.1 43.0,691.1 C46.4,690.1 49.9,688.3 53.1,688.0 C56.4,687.7 59.6,688.8 62.5,689.5 C65.4,690.2 67.7,692.3 70.3,692.3 C72.9,692.3 76.0,691.3 78.1,689.5 C80.2,687.7 82.0,683.0 82.8,681.7" fill="none" stroke="#e2e2e2" stroke-width="2.4" stroke-linecap="round"/>
<path d="M5.5,711.8 C7.2,711.2 11.3,709.3 15.6,708.3 C19.9,707.3 26.1,705.6 31.3,705.9 C36.5,706.2 41.7,710.3 46.9,710.2 C52.1,710.1 58.0,706.9 62.5,705.2 C67.0,703.5 71.0,701.0 74.2,700.1 C77.5,699.2 79.4,699.2 82.0,700.1 C84.6,701.0 88.5,704.4 89.8,705.2" fill="none" stroke="#a6a6a6" stroke-width="4.6" stroke-linecap="round"/>
<path d="M5.5,711.8 C7.2,711.2 11.3,709.3 15.6,708.3 C19.9,707.3 26.1,705.6 31.3,705.9 C36.5,706.2 41.7,710.3 46.9,710.2 C52.1,710.1 58.0,706.9 62.5,705.2 C67.0,703.5 71.0,701.0 74.2,700.1 C77.5,699.2 79.4,699.2 82.0,700.1 C84.6,701.0 88.5,704.4 89.8,705.2" fill="none" stroke="#e2e2e2" stroke-width="2.4" stroke-linecap="round"/>
<path d="M218.5,905.3 C216.1,906.1 216.7,912.4 214.3,915.0 C211.9,917.6 206.6,919.2 204.0,921.1 C201.4,923.0 200.0,924.3 198.5,926.6 C197.0,928.9 196.3,932.1 195.1,934.9 C193.8,937.6 193.1,940.7 191.0,943.1 C188.9,945.5 185.5,947.3 182.7,949.3 C179.9,951.2 172.9,952.0 174.4,954.8 C175.9,957.5 188.3,964.9 191.6,965.8 C194.9,966.7 193.0,962.6 194.4,960.3 C195.8,958.0 197.8,954.5 199.9,952.1 C202.0,949.7 204.3,947.6 206.8,945.9 C209.3,944.2 212.9,943.9 215.0,941.8 C217.1,939.7 218.2,936.7 219.1,933.5 C220.0,930.3 219.8,925.7 220.5,922.5 C221.2,919.3 221.9,916.4 223.3,914.3 C224.7,912.2 229.6,911.6 228.8,910.1 C228.0,908.6 220.9,904.5 218.5,905.3Z" fill="#f5f5f5"/>
<path d="M218.5,905.3 C217.8,906.9 216.7,912.4 214.3,915.0 C211.9,917.6 206.6,919.2 204.0,921.1 C201.4,923.0 200.0,924.3 198.5,926.6 C197.0,928.9 196.3,932.1 195.1,934.9 C193.8,937.6 193.1,940.7 191.0,943.1 C188.9,945.5 185.5,947.3 182.7,949.3 C179.9,951.2 175.8,953.9 174.4,954.8" fill="none" stroke="#a6a6a6" stroke-width="4.6" stroke-linecap="round"/>
<path d="M218.5,905.3 C217.8,906.9 216.7,912.4 214.3,915.0 C211.9,917.6 206.6,919.2 204.0,921.1 C201.4,923.0 200.0,924.3 198.5,926.6 C197.0,928.9 196.3,932.1 195.1,934.9 C193.8,937.6 193.1,940.7 191.0,943.1 C188.9,945.5 185.5,947.3 182.7,949.3 C179.9,951.2 175.8,953.9 174.4,954.8" fill="none" stroke="#e2e2e2" stroke-width="2.4" stroke-linecap="round"/>
<path d="M228.8,910.1 C227.9,910.8 224.7,912.2 223.3,914.3 C221.9,916.4 221.2,919.3 220.5,922.5 C219.8,925.7 220.0,930.3 219.1,933.5 C218.2,936.7 217.1,939.7 215.0,941.8 C212.9,943.9 209.3,944.2 206.8,945.9 C204.3,947.6 202.0,949.7 199.9,952.1 C197.8,954.5 195.8,958.0 194.4,960.3 C193.0,962.6 192.1,964.9 191.6,965.8" fill="none" stroke="#a6a6a6" stroke-width="4.6" stroke-linecap="round"/>
<path d="M228.8,910.1 C227.9,910.8 224.7,912.2 223.3,914.3 C221.9,916.4 221.2,919.3 220.5,922.5 C219.8,925.7 220.0,930.3 219.1,933.5 C218.2,936.7 217.1,939.7 215.0,941.8 C212.9,943.9 209.3,944.2 206.8,945.9 C204.3,947.6 202.0,949.7 199.9,952.1 C197.8,954.5 195.8,958.0 194.4,960.3 C193.0,962.6 192.1,964.9 191.6,965.8" fill="none" stroke="#e2e2e2" stroke-width="2.4" stroke-linecap="round"/>
<path d="M373.8,920.6 C372.8,923.8 378.8,924.5 379.9,927.5 C381.0,930.5 380.1,935.3 380.6,938.5 C381.1,941.7 381.1,944.0 382.7,946.8 C384.3,949.5 388.1,952.5 390.3,955.0 C392.5,957.5 394.4,959.1 395.8,961.9 C397.2,964.6 397.9,968.5 398.5,971.5 C399.1,974.5 396.1,979.9 399.5,980.0 C402.9,980.1 416.5,974.3 419.1,972.2 C421.7,970.1 416.6,969.5 415.0,967.4 C413.4,965.3 410.8,962.8 409.5,959.8 C408.2,956.8 408.2,952.9 407.5,949.5 C406.8,946.1 406.9,942.2 405.4,939.2 C403.9,936.2 401.2,934.1 398.5,931.6 C395.8,929.1 391.2,926.5 388.9,924.1 C386.6,921.7 385.3,919.8 384.8,917.2 C384.3,914.6 387.9,907.7 386.1,908.3 C384.3,908.9 374.8,917.4 373.8,920.6Z" fill="#f5f5f5"/>
<path d="M373.8,920.6 C374.8,921.8 378.8,924.5 379.9,927.5 C381.0,930.5 380.1,935.3 380.6,938.5 C381.1,941.7 381.1,944.0 382.7,946.8 C384.3,949.5 388.1,952.5 390.3,955.0 C392.5,957.5 394.4,959.1 395.8,961.9 C397.2,964.6 397.9,968.5 398.5,971.5 C399.1,974.5 399.3,978.6 399.5,980.0" fill="none" stroke="#a6a6a6" stroke-width="4.6" stroke-linecap="round"/>
<path d="M373.8,920.6 C374.8,921.8 378.8,924.5 379.9,927.5 C381.0,930.5 380.1,935.3 380.6,938.5 C381.1,941.7 381.1,944.0 382.7,946.8 C384.3,949.5 388.1,952.5 390.3,955.0 C392.5,957.5 394.4,959.1 395.8,961.9 C397.2,964.6 397.9,968.5 398.5,971.5 C399.1,974.5 399.3,978.6 399.5,980.0" fill="none" stroke="#e2e2e2" stroke-width="2.4" stroke-linecap="round"/>
<path d="M386.1,908.3 C385.9,909.8 384.3,914.6 384.8,917.2 C385.3,919.8 386.6,921.7 388.9,924.1 C391.2,926.5 395.8,929.1 398.5,931.6 C401.2,934.1 403.9,936.2 405.4,939.2 C406.9,942.2 406.8,946.1 407.5,949.5 C408.2,952.9 408.2,956.8 409.5,959.8 C410.8,962.8 413.4,965.3 415.0,967.4 C416.6,969.5 418.4,971.4 419.1,972.2" fill="none" stroke="#a6a6a6" stroke-width="4.6" stroke-linecap="round"/>
<path d="M386.1,908.3 C385.9,909.8 384.3,914.6 384.8,917.2 C385.3,919.8 386.6,921.7 388.9,924.1 C391.2,926.5 395.8,929.1 398.5,931.6 C401.2,934.1 403.9,936.2 405.4,939.2 C406.9,942.2 406.8,946.1 407.5,949.5 C408.2,952.9 408.2,956.8 409.5,959.8 C410.8,962.8 413.4,965.3 415.0,967.4 C416.6,969.5 418.4,971.4 419.1,972.2" fill="none" stroke="#e2e2e2" stroke-width="2.4" stroke-linecap="round"/>
<circle cx="193.4" cy="593.2" r="23.2" fill="#d4e7f0" stroke="#a5c6d6" stroke-width="1.3"/>
<circle cx="195.3" cy="591.9" r="15.5" fill="#b3d2e3"/>
<circle cx="203.8" cy="633.1" r="20.5" fill="#dcf1d4" stroke="#b0d8a6" stroke-width="1.3"/>
<circle cx="205.0" cy="630.5" r="13.0" fill="#bde3b2"/>
<circle cx="185.7" cy="677.0" r="23.0" fill="#d4e7f0" stroke="#a5c6d6" stroke-width="1.3"/>
<circle cx="185.7" cy="674.4" r="15.0" fill="#b3d2e3"/>
<circle cx="174.1" cy="633.1" r="23.0" fill="#a6dae6" stroke="#6eaec0" stroke-width="1.3"/>
<circle cx="174.1" cy="629.3" r="15.0" fill="#7ccadb"/>
<circle cx="230.8" cy="661.5" r="22.5" fill="#a6dae6" stroke="#6eaec0" stroke-width="1.3"/>
<circle cx="230.3" cy="658.9" r="14.5" fill="#7ccadb"/>
<circle cx="256.6" cy="634.4" r="22.5" fill="#d4e7f0" stroke="#a5c6d6" stroke-width="1.3"/>
<circle cx="256.6" cy="631.8" r="14.5" fill="#b3d2e3"/>
<circle cx="230.8" cy="604.8" r="22.7" fill="#a6dae6" stroke="#6eaec0" stroke-width="1.3"/>
<circle cx="230.3" cy="602.2" r="14.5" fill="#7ccadb"/>
<use href="#dc" transform="translate(226.4,514.8) scale(0.122) translate(-978,-955)"/>
<use href="#dc" transform="translate(178.5,796.5) scale(0.128) translate(-978,-955)"/>
<use href="#dc" transform="translate(325.5,865.0) scale(0.215) translate(-978,-955)"/>
<circle cx="327.0" cy="785.0" r="37.5" fill="#dcf2d4" stroke="#8fc086" stroke-width="1.6"/>
<circle cx="331.0" cy="781.5" r="23.3" fill="#bde2b2"/>
<use href="#snp" transform="translate(209.0,541.6)"/>
<use href="#snp" transform="translate(223.4,683.4)"/>
<use href="#snp" transform="translate(188.7,768.4)"/>
<use href="#snp" transform="translate(270.3,822.3)"/>
<use href="#snp" transform="translate(231.6,866.0)"/>
<rect x="250" y="745.7" width="146.2" height="162.4" rx="19" fill="none" stroke="#111" stroke-width="5.5" stroke-dasharray="5.5 6.8" stroke-dashoffset="1.5"/>
<line x1="399" y1="832.5" x2="491" y2="832.5" stroke="#111" stroke-width="5.5" stroke-dasharray="5.5 6.8"/>
<g filter="url(#glow)" opacity="0.85"><circle cx="367.2" cy="495.5" r="31.0" fill="#b9eea9"/><circle cx="413.5" cy="464.5" r="31.0" fill="#b9eea9"/><circle cx="449.4" cy="497.8" r="31.0" fill="#b9eea9"/><circle cx="408.0" cy="520.4" r="31.0" fill="#b9eea9"/></g>
<circle cx="367.2" cy="495.5" r="28.6" fill="#dcf3d4" stroke="#8fc484" stroke-width="1.3"/>
<circle cx="370.4" cy="491.9" r="17.2" fill="#bfe2b3"/>
<circle cx="449.4" cy="497.8" r="29.2" fill="#dcf3d4" stroke="#8fc484" stroke-width="1.3"/>
<circle cx="450.1" cy="494.8" r="18.0" fill="#bfe2b3"/>
<circle cx="408.0" cy="520.4" r="28.9" fill="#dcf3d4" stroke="#8fc484" stroke-width="1.3"/>
<circle cx="409.2" cy="515.2" r="17.5" fill="#bfe2b3"/>
<circle cx="413.5" cy="464.5" r="29.2" fill="#dcf3d4" stroke="#8fc484" stroke-width="1.3"/>
<circle cx="415.0" cy="460.4" r="17.8" fill="#bfe2b3"/>
<defs><linearGradient id="lyg" gradientUnits="userSpaceOnUse" x1="0" y1="415" x2="0" y2="330"><stop offset="0" stop-color="#2a2a2a" stop-opacity="0"/><stop offset="1" stop-color="#2a2a2a"/></linearGradient></defs>
<path d="M407.3,415 C407,370 400,330 383.2,300 C368,272 345,255 318,243" fill="none" stroke="url(#lyg)" stroke-width="4.6"/>
<path d="M297.2,234.6 L323.9,233.8 L313.5,255.3 Z" fill="#2a2a2a"/>
<defs><linearGradient id="tcg" gradientUnits="userSpaceOnUse" x1="314" y1="722" x2="360" y2="660"><stop offset="0" stop-color="#1a1a1a" stop-opacity="0"/><stop offset="1" stop-color="#1a1a1a"/></linearGradient></defs>
<path d="M314.6,721.8 C325,690 340,672 360,660 C385,646 410,635 422,612 C430,596 434,585 434.5,568" fill="none" stroke="url(#tcg)" stroke-width="3.5"/>
<path d="M434.8,555 L442.5,571.8 L426.5,571.8 Z" fill="#1a1a1a"/>
<defs><linearGradient id="npg" gradientUnits="userSpaceOnUse" x1="101" y1="1055" x2="140" y2="1028"><stop offset="0" stop-color="#1a1a1a" stop-opacity="0"/><stop offset="1" stop-color="#1a1a1a"/></linearGradient></defs>
<path d="M101.5,1054.9 C120,1045 137,1032 150,1018 C160,1006 166,995 171,982" fill="none" stroke="url(#npg)" stroke-width="4.3"/>
<path d="M177.1,967.2 L178.8,984.4 L164.2,979.2 Z" fill="#1a1a1a"/>
<use href="#np" transform="translate(54.5,1087.5)"/>
<path d="M243.8,225.0 C243.6,229.5 243.4,233.9 242.6,238.4 C241.9,242.8 241.5,247.7 239.3,251.7 C237.2,255.7 233.0,259.1 229.7,262.5 C226.4,266.0 223.3,269.6 219.5,272.6 C215.8,275.6 211.7,278.7 207.2,280.7 C202.7,282.7 197.3,283.4 192.4,284.7 C187.5,286.0 182.8,288.0 177.7,288.7 C172.7,289.4 167.4,289.4 162.2,289.1 C157.0,288.9 151.4,288.6 146.7,286.9 C142.0,285.3 138.2,281.6 133.9,279.1 C129.6,276.6 124.8,274.9 121.1,272.0 C117.4,269.1 114.9,265.1 111.6,261.7 C108.3,258.3 103.6,255.4 101.1,251.5 C98.7,247.6 97.3,242.9 96.8,238.5 C96.3,234.0 98.2,229.5 98.0,225.0 C97.8,220.5 95.1,215.8 95.5,211.3 C95.9,206.8 98.2,202.3 100.5,198.2 C102.9,194.2 106.3,190.6 109.6,187.0 C112.9,183.5 116.1,179.8 120.1,177.1 C124.2,174.4 129.2,172.6 133.8,170.7 C138.4,168.8 143.0,167.5 147.8,165.9 C152.5,164.3 157.3,161.7 162.3,161.2 C167.2,160.8 172.5,162.4 177.5,163.0 C182.6,163.7 187.6,164.0 192.4,165.3 C197.3,166.5 202.1,168.2 206.4,170.4 C210.7,172.7 214.2,175.9 218.1,178.8 C222.0,181.6 226.5,184.1 229.7,187.5 C232.9,190.8 235.0,195.1 237.4,199.1 C239.7,203.1 242.8,207.1 243.9,211.4 C244.9,215.7 244.0,220.5 243.8,225.0Z" fill="#f5b6b6"/>
<path d="M159.0,166.0 C159.1,166.9 159.0,167.9 158.9,168.8 C158.8,169.8 158.5,170.7 158.4,171.7 C158.3,172.6 158.4,173.6 158.2,174.5 C157.9,175.5 157.5,176.4 157.1,177.2 C156.6,178.1 155.6,178.6 155.4,179.6 C155.2,180.6 156.4,182.5 155.8,183.3 C155.3,184.1 153.3,183.8 152.4,184.3 C151.4,184.9 150.9,185.5 150.4,186.4 C150.0,187.3 150.2,189.1 149.5,189.8 C148.8,190.4 147.3,190.0 146.3,190.4 C145.4,190.8 144.8,191.6 143.9,191.9 C143.0,192.3 141.9,192.1 141.0,192.4 C140.1,192.8 139.4,193.7 138.5,194.0 C137.6,194.3 136.5,193.9 135.6,194.1 C134.7,194.3 133.8,195.2 132.9,195.3 C132.0,195.4 131.0,194.4 130.0,194.7 C129.0,194.9 127.9,196.9 127.0,196.8 C126.0,196.7 125.3,194.7 124.4,194.2 C123.5,193.6 122.7,193.6 121.6,193.7 C120.5,193.8 118.9,195.3 118.0,194.9 C117.2,194.5 117.2,192.1 116.5,191.3 C115.8,190.4 114.9,190.3 114.0,189.9 C113.2,189.5 112.1,189.3 111.3,188.7 C110.6,188.1 110.2,187.1 109.6,186.4 C109.0,185.6 108.4,184.9 107.8,184.2 C107.1,183.6 106.1,183.1 105.6,182.3 C105.1,181.5 105.1,180.4 104.7,179.5 C104.4,178.6 103.9,177.8 103.4,177.0 C103.0,176.2 102.5,175.3 102.0,174.5 C101.5,173.6 100.6,172.8 100.5,171.9 C100.3,170.9 101.0,169.8 101.1,168.8 C101.1,167.9 100.9,166.9 100.9,166.0 C100.9,165.1 101.1,164.1 101.2,163.2 C101.3,162.2 101.4,161.3 101.6,160.3 C101.7,159.4 101.6,158.4 101.9,157.5 C102.3,156.6 103.1,155.9 103.5,155.0 C103.9,154.1 103.7,153.0 104.2,152.2 C104.6,151.4 105.6,150.8 106.1,150.0 C106.6,149.2 106.8,148.2 107.3,147.4 C107.8,146.6 108.5,145.9 109.2,145.2 C109.9,144.6 111.0,144.4 111.5,143.5 C112.1,142.7 111.8,140.5 112.7,140.0 C113.5,139.6 115.4,140.7 116.4,140.6 C117.5,140.5 118.1,139.8 119.0,139.4 C119.8,139.0 120.7,138.4 121.6,138.2 C122.5,137.9 123.5,137.9 124.4,137.8 C125.3,137.7 126.3,137.7 127.2,137.5 C128.1,137.4 129.1,137.0 130.0,136.9 C130.9,136.9 131.9,137.0 132.9,137.0 C133.8,137.1 134.8,136.9 135.7,137.2 C136.6,137.5 137.3,138.5 138.3,138.7 C139.3,138.8 140.7,137.6 141.6,137.9 C142.5,138.3 142.9,139.8 143.6,140.5 C144.3,141.2 145.1,141.7 145.9,142.2 C146.8,142.6 147.8,142.8 148.6,143.3 C149.4,143.9 149.8,144.8 150.6,145.4 C151.4,146.0 152.9,146.0 153.4,146.8 C153.9,147.6 153.4,149.2 153.8,150.1 C154.2,151.0 155.3,151.4 155.7,152.2 C156.2,153.1 156.1,154.2 156.4,155.1 C156.7,156.0 157.4,156.7 157.7,157.6 C158.0,158.5 158.2,159.4 158.3,160.4 C158.4,161.3 158.4,162.3 158.5,163.2 C158.6,164.1 159.0,165.1 159.0,166.0Z" fill="#f5b6b6" stroke="#cf8c8f" stroke-width="1.1"/>
<path d="M143.9,159.0 C143.9,160.8 143.6,162.8 142.7,164.3 C141.8,165.8 140.1,167.1 138.4,168.0 C136.8,168.8 134.8,169.3 133.0,169.3 C131.2,169.3 129.1,168.9 127.5,168.0 C125.9,167.2 124.1,165.8 123.3,164.3 C122.5,162.8 122.7,160.7 122.7,159.0 C122.8,157.3 122.9,155.4 123.6,153.9 C124.4,152.3 125.9,150.7 127.4,149.8 C129.0,148.9 131.2,148.3 133.0,148.4 C134.8,148.5 136.6,149.6 138.2,150.5 C139.8,151.4 141.6,152.4 142.5,153.8 C143.5,155.2 143.9,157.2 143.9,159.0Z" fill="#d8868c"/>
<circle cx="143.5" cy="150.4" r="0.9" fill="#e49ea1"/>
<circle cx="117.1" cy="153.1" r="0.9" fill="#e49ea1"/>
<circle cx="111.7" cy="155.5" r="0.9" fill="#e49ea1"/>
<circle cx="148.8" cy="176.4" r="0.9" fill="#e49ea1"/>
<circle cx="154.5" cy="165.0" r="0.9" fill="#e49ea1"/>
<circle cx="127.5" cy="147.8" r="0.9" fill="#e49ea1"/>
<circle cx="128.1" cy="145.3" r="0.9" fill="#e49ea1"/>
<path d="M261.0,226.0 C260.6,226.9 260.7,227.7 260.5,228.6 C260.4,229.5 260.2,230.3 260.1,231.2 C260.0,232.1 260.0,233.0 259.8,233.8 C259.7,234.7 259.4,235.6 259.1,236.4 C258.8,237.2 258.2,237.9 257.9,238.8 C257.6,239.7 258.0,241.0 257.5,241.7 C257.0,242.5 255.8,242.7 255.0,243.2 C254.2,243.8 253.5,244.3 252.9,244.9 C252.3,245.5 251.8,246.3 251.2,247.0 C250.6,247.6 249.9,248.2 249.2,248.7 C248.4,249.2 247.6,249.6 246.8,249.9 C246.0,250.3 245.1,250.5 244.3,250.9 C243.5,251.3 242.8,251.9 241.9,252.2 C241.1,252.4 240.1,252.0 239.2,252.4 C238.4,252.8 237.7,254.3 236.8,254.5 C235.9,254.6 234.9,253.5 234.0,253.3 C233.1,253.0 232.3,252.9 231.3,253.0 C230.4,253.2 229.3,254.2 228.4,254.0 C227.6,253.7 227.0,252.2 226.2,251.7 C225.4,251.1 224.5,251.2 223.7,250.9 C222.9,250.6 222.1,250.2 221.3,249.8 C220.5,249.4 219.7,249.0 218.8,248.7 C218.0,248.3 217.1,248.0 216.2,247.7 C215.3,247.4 213.8,247.5 213.3,246.7 C212.7,246.0 213.6,244.0 213.1,243.2 C212.6,242.3 211.1,242.4 210.3,241.8 C209.5,241.3 208.6,240.6 208.3,239.7 C207.9,238.9 208.2,237.7 208.2,236.7 C208.2,235.7 208.2,234.8 208.1,233.9 C207.9,233.0 207.6,232.2 207.4,231.3 C207.2,230.4 207.0,229.6 206.9,228.7 C206.8,227.8 207.0,226.9 206.9,226.0 C206.7,225.1 205.9,224.1 206.1,223.2 C206.2,222.4 207.1,221.6 207.5,220.7 C207.9,219.9 208.1,219.1 208.4,218.2 C208.7,217.4 208.9,216.5 209.2,215.7 C209.5,214.9 209.8,214.1 210.2,213.3 C210.5,212.5 210.9,211.6 211.4,210.9 C211.8,210.1 212.3,209.3 212.9,208.7 C213.6,208.1 214.7,208.0 215.1,207.1 C215.6,206.3 215.1,204.3 215.7,203.7 C216.3,203.1 218.0,203.7 218.9,203.5 C219.9,203.2 220.6,202.7 221.3,202.3 C222.1,201.8 222.8,201.2 223.5,200.8 C224.3,200.4 225.2,200.0 226.1,199.8 C226.9,199.6 227.8,199.5 228.7,199.4 C229.6,199.3 230.5,199.0 231.3,199.0 C232.2,198.9 233.1,198.8 234.0,198.9 C234.9,199.0 235.7,199.3 236.6,199.4 C237.5,199.4 238.5,199.0 239.3,199.1 C240.2,199.3 241.0,199.8 241.8,200.1 C242.7,200.5 243.4,200.9 244.3,201.2 C245.1,201.5 246.1,201.5 246.9,201.9 C247.6,202.4 248.1,203.3 248.8,203.8 C249.5,204.4 250.2,204.8 251.2,205.1 C252.1,205.4 254.0,204.7 254.6,205.4 C255.2,206.0 254.3,208.1 254.6,209.1 C254.9,210.1 255.5,210.6 256.2,211.1 C257.0,211.7 258.7,211.8 259.1,212.6 C259.6,213.3 258.8,214.7 259.0,215.7 C259.1,216.6 259.8,217.2 260.1,218.1 C260.4,218.9 260.4,219.8 260.8,220.7 C261.3,221.5 262.6,222.3 262.6,223.2 C262.6,224.1 261.3,225.1 261.0,226.0Z" fill="#f5b6b6" stroke="#cf8c8f" stroke-width="1.1"/>
<path d="M250.0,220.6 C250.1,222.1 249.2,223.8 248.4,225.2 C247.6,226.6 246.6,228.3 245.2,229.1 C243.8,230.0 241.7,230.4 240.0,230.3 C238.3,230.3 236.5,229.6 235.0,228.9 C233.5,228.1 231.7,227.0 230.9,225.6 C230.0,224.2 229.8,222.2 229.9,220.6 C230.0,219.0 230.7,217.3 231.6,216.0 C232.5,214.6 233.7,213.4 235.1,212.5 C236.5,211.6 238.3,210.7 240.0,210.6 C241.7,210.5 243.9,210.9 245.3,211.8 C246.7,212.8 247.5,214.6 248.3,216.1 C249.0,217.5 250.0,219.1 250.0,220.6Z" fill="#d8868c"/>
<circle cx="248.0" cy="206.9" r="0.9" fill="#e49ea1"/>
<circle cx="214.9" cy="223.1" r="0.9" fill="#e49ea1"/>
<circle cx="239.7" cy="244.0" r="0.9" fill="#e49ea1"/>
<circle cx="214.3" cy="225.6" r="0.9" fill="#e49ea1"/>
<circle cx="257.3" cy="230.1" r="0.9" fill="#e49ea1"/>
<circle cx="216.7" cy="224.3" r="0.9" fill="#e49ea1"/>
<circle cx="240.1" cy="207.8" r="0.9" fill="#e49ea1"/>
<path d="M137.7,213.0 C137.4,213.9 137.3,214.8 137.2,215.7 C137.1,216.6 137.2,217.5 137.1,218.4 C137.0,219.4 136.8,220.2 136.8,221.2 C136.8,222.2 137.5,223.5 137.1,224.4 C136.8,225.2 135.3,225.6 134.6,226.3 C133.9,227.0 133.5,227.8 133.0,228.5 C132.4,229.3 131.4,229.6 131.1,230.6 C130.9,231.6 132.0,234.0 131.3,234.6 C130.7,235.2 128.2,234.1 127.2,234.3 C126.2,234.6 125.9,235.6 125.1,236.1 C124.4,236.6 123.5,236.8 122.8,237.6 C122.2,238.4 122.1,240.6 121.3,240.9 C120.4,241.3 118.8,239.6 117.7,239.5 C116.7,239.4 116.0,240.0 115.1,240.3 C114.2,240.5 113.4,240.8 112.4,240.9 C111.5,241.0 110.6,240.7 109.7,240.9 C108.8,241.1 107.7,242.3 106.8,242.3 C105.9,242.2 105.1,241.0 104.2,240.6 C103.3,240.2 102.4,240.1 101.6,239.8 C100.7,239.5 99.8,239.3 98.9,239.0 C98.1,238.6 97.4,237.9 96.6,237.5 C95.8,237.1 94.8,237.0 94.0,236.5 C93.2,236.0 92.8,235.1 92.0,234.5 C91.3,234.0 90.4,233.6 89.6,233.1 C88.9,232.5 88.2,231.8 87.7,231.0 C87.2,230.3 87.2,229.2 86.7,228.4 C86.2,227.6 85.3,227.1 84.8,226.3 C84.4,225.5 84.5,224.4 84.1,223.6 C83.8,222.7 83.2,222.0 83.0,221.1 C82.7,220.2 83.0,219.3 82.5,218.4 C82.1,217.5 80.5,216.8 80.3,215.9 C80.1,215.0 81.7,214.0 81.5,213.0 C81.4,212.0 79.5,211.0 79.6,210.0 C79.7,209.1 81.5,208.4 82.0,207.5 C82.5,206.6 82.6,205.7 82.8,204.8 C82.9,203.9 82.7,202.8 83.1,202.0 C83.5,201.1 84.6,200.7 85.0,199.8 C85.3,198.9 84.7,197.4 85.2,196.6 C85.8,195.9 87.5,196.0 88.2,195.4 C89.0,194.8 89.2,193.9 89.6,192.9 C90.0,192.0 89.8,190.3 90.6,189.7 C91.4,189.2 93.2,190.0 94.2,189.7 C95.2,189.5 95.8,188.9 96.6,188.4 C97.4,188.0 98.3,187.8 99.0,187.1 C99.7,186.4 100.1,184.4 100.9,184.1 C101.8,183.8 103.2,185.1 104.2,185.3 C105.2,185.4 106.0,185.2 107.0,185.2 C107.9,185.1 108.8,185.0 109.7,185.1 C110.6,185.1 111.5,185.3 112.4,185.4 C113.3,185.6 114.2,185.8 115.1,185.9 C116.0,186.0 117.0,185.8 117.9,186.0 C118.8,186.1 119.7,186.4 120.5,186.9 C121.4,187.3 122.1,187.9 122.9,188.4 C123.6,188.9 124.5,189.3 125.3,189.7 C126.1,190.2 126.9,190.6 127.6,191.2 C128.4,191.7 129.1,192.3 129.7,193.0 C130.4,193.6 131.0,194.3 131.5,195.1 C132.1,195.8 132.4,196.7 132.9,197.5 C133.4,198.2 134.2,198.9 134.7,199.7 C135.2,200.4 135.5,201.3 135.8,202.2 C136.1,203.1 136.2,204.0 136.4,204.9 C136.6,205.8 136.4,206.7 136.8,207.6 C137.3,208.5 139.0,209.2 139.1,210.1 C139.3,211.0 138.0,212.1 137.7,213.0Z" fill="#f5b6b6" stroke="#cf8c8f" stroke-width="1.1"/>
<path d="M128.2,216.9 C128.2,219.1 127.5,221.7 126.3,223.4 C125.1,225.2 122.8,226.3 120.9,227.5 C118.9,228.7 116.6,230.5 114.4,230.6 C112.2,230.8 109.4,229.6 107.5,228.3 C105.6,227.1 104.2,225.0 103.0,223.1 C101.9,221.2 100.6,219.0 100.6,216.9 C100.5,214.8 101.4,212.3 102.6,210.4 C103.8,208.6 105.6,206.8 107.6,205.7 C109.6,204.7 112.1,204.4 114.4,204.3 C116.7,204.2 119.7,203.9 121.7,204.9 C123.7,205.9 125.3,208.3 126.4,210.3 C127.4,212.3 128.2,214.7 128.2,216.9Z" fill="#d8868c"/>
<circle cx="102.8" cy="191.1" r="0.9" fill="#e49ea1"/>
<circle cx="126.3" cy="210.9" r="0.9" fill="#e49ea1"/>
<circle cx="92.7" cy="197.9" r="0.9" fill="#e49ea1"/>
<circle cx="108.9" cy="232.9" r="0.9" fill="#e49ea1"/>
<circle cx="127.0" cy="218.7" r="0.9" fill="#e49ea1"/>
<circle cx="97.4" cy="225.2" r="0.9" fill="#e49ea1"/>
<circle cx="109.6" cy="237.2" r="0.9" fill="#e49ea1"/>
<path d="M138.4,256.3 C138.3,257.1 138.6,257.9 138.6,258.7 C138.6,259.5 138.2,260.2 138.3,261.1 C138.4,261.9 139.1,262.9 139.2,263.8 C139.2,264.7 139.3,265.7 138.7,266.4 C138.0,267.0 136.1,267.0 135.4,267.5 C134.6,268.0 134.3,268.6 134.2,269.5 C134.0,270.4 135.1,272.3 134.6,272.9 C134.2,273.5 132.2,272.9 131.3,273.2 C130.5,273.6 130.3,274.4 129.7,274.9 C129.1,275.4 128.3,275.7 127.6,276.1 C127.0,276.6 126.4,277.1 125.7,277.5 C125.1,277.9 124.4,278.4 123.6,278.6 C122.9,278.9 122.0,278.5 121.3,278.9 C120.6,279.4 120.1,281.2 119.4,281.3 C118.6,281.5 117.6,279.9 116.7,280.1 C115.9,280.3 115.2,282.2 114.4,282.6 C113.6,283.0 112.6,283.0 111.8,282.5 C111.0,282.1 110.5,280.3 109.7,279.8 C109.0,279.3 108.1,279.8 107.3,279.6 C106.6,279.4 105.9,278.8 105.2,278.5 C104.5,278.2 103.7,277.9 103.0,277.6 C102.3,277.3 101.7,276.8 100.9,276.5 C100.0,276.3 98.6,276.8 98.0,276.2 C97.5,275.7 97.8,274.1 97.5,273.2 C97.1,272.4 96.6,271.9 96.1,271.3 C95.6,270.7 95.2,270.1 94.7,269.5 C94.2,268.9 93.5,268.3 93.1,267.7 C92.7,267.0 92.7,266.2 92.4,265.4 C92.1,264.7 91.7,264.0 91.5,263.3 C91.2,262.5 91.1,261.7 90.8,261.0 C90.6,260.2 90.6,259.5 90.2,258.7 C89.8,257.9 88.5,257.1 88.6,256.3 C88.6,255.5 89.9,254.7 90.3,253.9 C90.7,253.2 90.8,252.4 91.0,251.6 C91.1,250.9 91.1,250.1 91.3,249.3 C91.5,248.5 91.9,247.8 92.2,247.1 C92.5,246.4 92.7,245.6 93.1,244.9 C93.5,244.2 94.2,243.7 94.6,243.1 C95.0,242.4 95.3,241.6 95.6,240.9 C96.0,240.1 96.2,239.2 96.8,238.7 C97.4,238.1 98.5,238.1 99.2,237.8 C100.0,237.4 100.7,237.2 101.2,236.6 C101.8,235.9 101.7,234.3 102.4,233.8 C103.1,233.4 104.4,234.2 105.2,234.1 C106.0,234.0 106.7,233.6 107.5,233.4 C108.2,233.2 109.0,233.2 109.8,233.0 C110.5,232.8 111.3,232.6 112.0,232.2 C112.8,231.9 113.6,230.7 114.4,230.7 C115.2,230.7 116.0,231.9 116.8,232.3 C117.5,232.7 118.3,232.8 119.0,233.0 C119.8,233.2 120.6,233.3 121.3,233.5 C122.1,233.7 122.8,234.0 123.5,234.2 C124.3,234.4 125.2,234.5 125.9,234.8 C126.6,235.2 127.1,235.9 127.8,236.3 C128.4,236.8 129.0,237.2 129.8,237.5 C130.6,237.8 132.0,237.5 132.7,238.0 C133.4,238.4 133.7,239.4 134.0,240.2 C134.3,241.1 134.1,242.2 134.3,243.0 C134.6,243.8 135.1,244.3 135.4,245.1 C135.8,245.8 135.7,246.6 136.3,247.2 C136.8,247.9 138.4,248.2 138.7,248.9 C139.0,249.6 138.0,250.8 138.1,251.6 C138.2,252.4 139.5,253.0 139.5,253.8 C139.6,254.6 138.6,255.5 138.4,256.3Z" fill="#f5b6b6" stroke="#cf8c8f" stroke-width="1.1"/>
<path d="M122.0,250.6 C122.0,252.3 121.0,254.3 119.9,255.7 C118.9,257.1 117.3,258.1 115.8,259.1 C114.2,260.0 112.4,261.3 110.6,261.4 C108.8,261.5 106.7,260.6 105.0,259.8 C103.3,258.9 101.5,257.7 100.4,256.2 C99.4,254.6 98.8,252.5 98.8,250.6 C98.8,248.7 99.4,246.5 100.4,245.0 C101.5,243.5 103.5,242.5 105.2,241.6 C106.8,240.7 108.8,239.6 110.6,239.6 C112.4,239.7 114.4,240.9 115.9,241.8 C117.5,242.8 118.8,244.1 119.8,245.5 C120.9,247.0 122.0,248.9 122.0,250.6Z" fill="#d8868c"/>
<circle cx="97.8" cy="268.4" r="0.9" fill="#e49ea1"/>
<circle cx="126.8" cy="246.6" r="0.9" fill="#e49ea1"/>
<circle cx="103.7" cy="268.9" r="0.9" fill="#e49ea1"/>
<circle cx="103.4" cy="269.0" r="0.9" fill="#e49ea1"/>
<circle cx="102.7" cy="266.3" r="0.9" fill="#e49ea1"/>
<circle cx="96.4" cy="248.7" r="0.9" fill="#e49ea1"/>
<circle cx="95.2" cy="251.3" r="0.9" fill="#e49ea1"/>
<path d="M229.4,169.5 C229.5,170.4 227.9,171.3 227.4,172.2 C226.9,173.1 226.5,173.9 226.3,174.8 C226.1,175.7 226.2,176.6 226.1,177.5 C225.9,178.4 225.5,179.2 225.5,180.2 C225.4,181.2 226.1,182.6 225.8,183.5 C225.5,184.4 224.6,185.0 223.8,185.6 C223.0,186.2 221.9,186.5 221.1,187.1 C220.3,187.6 219.6,188.1 218.9,188.7 C218.2,189.3 217.6,189.9 217.0,190.5 C216.3,191.2 215.8,192.0 215.0,192.5 C214.3,193.0 213.4,193.1 212.6,193.5 C211.8,194.0 211.0,194.6 210.2,194.9 C209.4,195.3 208.5,195.4 207.7,195.7 C206.8,196.1 206.0,196.7 205.1,196.9 C204.3,197.0 203.3,196.8 202.4,196.9 C201.5,196.9 200.6,197.1 199.7,197.2 C198.8,197.2 197.9,197.3 197.0,197.2 C196.1,197.1 195.2,196.9 194.3,196.7 C193.4,196.6 192.5,196.4 191.6,196.1 C190.8,195.8 189.9,195.5 189.1,195.2 C188.2,194.8 187.3,194.5 186.6,194.1 C185.8,193.6 185.2,192.9 184.4,192.4 C183.7,191.9 183.0,191.3 182.1,191.0 C181.2,190.6 179.5,191.0 178.8,190.4 C178.1,189.8 178.4,188.2 178.1,187.2 C177.8,186.2 177.5,185.4 177.1,184.6 C176.6,183.8 176.3,183.1 175.5,182.4 C174.7,181.8 172.8,181.6 172.5,180.8 C172.2,179.9 173.9,178.3 173.7,177.4 C173.5,176.5 171.6,176.0 171.3,175.1 C171.1,174.3 172.5,173.1 172.4,172.2 C172.2,171.3 170.6,170.4 170.6,169.5 C170.7,168.6 172.2,167.7 172.6,166.8 C173.0,165.9 172.8,165.1 172.9,164.2 C173.1,163.3 173.0,162.3 173.3,161.5 C173.6,160.6 174.1,159.9 174.5,159.1 C174.9,158.3 175.3,157.5 175.7,156.7 C176.1,155.9 176.5,155.1 177.0,154.3 C177.4,153.5 177.7,152.6 178.2,151.9 C178.8,151.2 179.8,150.8 180.4,150.2 C181.0,149.5 181.4,148.6 182.0,148.0 C182.7,147.4 183.6,147.1 184.4,146.6 C185.2,146.1 185.9,145.6 186.7,145.3 C187.6,144.9 188.5,144.8 189.3,144.4 C190.1,144.1 190.8,143.3 191.6,142.9 C192.5,142.6 193.4,142.6 194.3,142.5 C195.2,142.4 196.1,142.4 197.0,142.3 C197.9,142.2 198.8,141.8 199.7,141.9 C200.6,141.9 201.5,142.4 202.4,142.5 C203.2,142.7 204.1,142.6 205.0,142.6 C205.9,142.7 206.8,143.0 207.7,143.0 C208.7,143.1 209.9,142.5 210.7,142.9 C211.5,143.3 211.9,144.8 212.6,145.4 C213.3,146.0 214.2,146.2 215.0,146.6 C215.8,147.0 216.5,147.6 217.4,147.9 C218.4,148.2 220.2,147.8 220.7,148.5 C221.2,149.2 220.3,151.4 220.6,152.3 C221.0,153.2 222.3,153.3 222.8,154.1 C223.3,154.8 223.0,156.0 223.6,156.7 C224.3,157.4 226.5,157.4 226.9,158.2 C227.3,159.0 226.0,160.5 226.0,161.5 C226.0,162.5 226.6,163.2 226.7,164.1 C226.9,165.0 226.5,165.9 226.9,166.8 C227.3,167.7 229.3,168.6 229.4,169.5Z" fill="#f5b6b6" stroke="#cf8c8f" stroke-width="1.1"/>
<path d="M216.3,171.9 C216.6,174.1 216.6,177.2 215.4,179.0 C214.2,180.8 211.2,181.5 209.0,182.7 C206.9,183.8 204.7,185.9 202.5,185.9 C200.3,185.9 197.9,184.1 195.8,182.9 C193.8,181.7 191.5,180.4 190.3,178.6 C189.1,176.8 188.3,174.1 188.4,171.9 C188.6,169.7 189.9,167.6 191.0,165.6 C192.2,163.6 193.2,160.9 195.1,159.8 C197.0,158.7 200.1,158.8 202.5,159.0 C204.9,159.2 207.4,159.6 209.3,160.7 C211.2,161.8 212.6,163.8 213.8,165.7 C215.0,167.6 216.0,169.7 216.3,171.9Z" fill="#d8868c"/>
<circle cx="192.7" cy="188.8" r="0.9" fill="#e49ea1"/>
<circle cx="195.4" cy="150.3" r="0.9" fill="#e49ea1"/>
<circle cx="192.8" cy="153.1" r="0.9" fill="#e49ea1"/>
<circle cx="183.6" cy="182.1" r="0.9" fill="#e49ea1"/>
<circle cx="222.4" cy="164.7" r="0.9" fill="#e49ea1"/>
<circle cx="190.0" cy="155.4" r="0.9" fill="#e49ea1"/>
<circle cx="183.7" cy="185.1" r="0.9" fill="#e49ea1"/>
<path d="M229.7,270.3 C230.1,271.2 232.0,272.2 232.0,273.0 C232.0,273.9 230.2,274.5 229.6,275.3 C229.1,276.1 229.2,276.9 228.9,277.7 C228.6,278.5 228.2,279.3 227.9,280.0 C227.5,280.8 227.1,281.5 226.8,282.2 C226.4,283.0 226.0,283.7 225.5,284.4 C225.1,285.1 224.5,285.7 224.0,286.4 C223.5,287.0 223.1,287.8 222.6,288.5 C222.0,289.1 221.4,289.7 220.8,290.3 C220.1,290.8 219.3,291.0 218.7,291.6 C218.0,292.3 217.9,293.7 217.1,294.1 C216.3,294.4 214.8,293.2 214.0,293.6 C213.2,293.9 213.1,296.0 212.3,296.3 C211.5,296.7 210.3,295.7 209.4,295.6 C208.5,295.4 207.7,295.1 206.9,295.4 C206.0,295.6 205.2,297.1 204.4,297.1 C203.6,297.1 202.8,295.7 201.9,295.4 C201.1,295.0 200.3,295.3 199.4,295.3 C198.6,295.2 197.8,295.0 197.0,294.8 C196.2,294.6 195.3,294.4 194.5,294.1 C193.8,293.7 193.1,293.2 192.4,292.7 C191.8,292.2 191.2,291.6 190.4,291.2 C189.7,290.8 188.8,290.6 188.1,290.1 C187.4,289.7 187.0,288.9 186.2,288.5 C185.4,288.0 184.0,288.1 183.5,287.4 C183.0,286.8 183.5,285.3 183.3,284.4 C183.1,283.5 182.6,282.9 182.2,282.2 C181.8,281.5 181.2,280.8 180.8,280.1 C180.4,279.3 180.0,278.6 179.8,277.8 C179.6,277.0 179.8,276.0 179.6,275.2 C179.5,274.4 178.8,273.7 178.7,272.8 C178.6,272.0 178.9,271.1 179.0,270.3 C179.1,269.5 179.3,268.7 179.3,267.8 C179.3,267.0 178.9,266.1 179.0,265.3 C179.1,264.4 179.5,263.6 179.8,262.8 C180.2,262.1 180.7,261.4 181.1,260.6 C181.4,259.9 181.4,259.0 181.8,258.2 C182.2,257.5 183.0,257.0 183.5,256.3 C183.9,255.6 184.1,254.7 184.6,254.1 C185.1,253.4 185.9,252.9 186.5,252.4 C187.1,251.8 187.6,251.2 188.3,250.7 C188.9,250.2 189.7,249.8 190.4,249.3 C191.1,248.9 191.8,248.5 192.5,248.1 C193.2,247.6 193.9,247.1 194.6,246.7 C195.4,246.3 196.2,246.1 197.0,245.9 C197.8,245.6 198.5,245.2 199.4,245.0 C200.2,244.8 201.0,244.7 201.9,244.7 C202.7,244.7 203.6,245.0 204.4,245.1 C205.2,245.2 206.1,245.0 206.9,245.1 C207.7,245.1 208.5,245.4 209.3,245.5 C210.2,245.6 211.0,245.6 211.9,245.7 C212.7,245.7 213.8,245.3 214.6,245.7 C215.3,246.1 215.6,247.5 216.3,248.0 C217.0,248.5 218.1,248.4 218.8,248.8 C219.5,249.3 219.8,250.1 220.5,250.7 C221.1,251.3 221.9,251.6 222.6,252.1 C223.2,252.7 223.7,253.4 224.2,254.1 C224.6,254.8 224.6,255.8 225.3,256.3 C226.0,256.9 227.5,257.0 228.2,257.6 C228.9,258.2 229.5,259.0 229.6,259.9 C229.6,260.8 228.7,262.0 228.6,263.0 C228.6,263.9 229.2,264.5 229.3,265.4 C229.4,266.2 229.4,267.0 229.4,267.8 C229.5,268.7 229.3,269.4 229.7,270.3Z" fill="#f5b6b6" stroke="#cf8c8f" stroke-width="1.1"/>
<path d="M217.1,275.0 C217.2,276.9 217.8,279.3 217.0,280.9 C216.2,282.5 213.9,283.8 212.1,284.6 C210.4,285.4 208.2,285.9 206.3,285.9 C204.4,285.8 202.3,285.2 200.6,284.3 C198.9,283.4 197.2,282.1 196.1,280.6 C195.1,279.0 194.5,276.9 194.5,275.0 C194.4,273.1 195.0,271.0 195.9,269.3 C196.9,267.7 198.6,266.0 200.3,265.2 C202.0,264.3 204.3,264.2 206.3,264.1 C208.3,264.0 210.8,263.9 212.5,264.8 C214.3,265.6 216.0,267.5 216.8,269.2 C217.6,270.9 217.1,273.1 217.1,275.0Z" fill="#d8868c"/>
<circle cx="215.3" cy="256.3" r="0.9" fill="#e49ea1"/>
<circle cx="187.0" cy="278.0" r="0.9" fill="#e49ea1"/>
<circle cx="219.9" cy="259.8" r="0.9" fill="#e49ea1"/>
<circle cx="186.7" cy="267.5" r="0.9" fill="#e49ea1"/>
<circle cx="218.5" cy="260.6" r="0.9" fill="#e49ea1"/>
<circle cx="223.5" cy="277.1" r="0.9" fill="#e49ea1"/>
<circle cx="220.9" cy="258.3" r="0.9" fill="#e49ea1"/>
<path d="M181.7,282.5 C181.6,283.3 181.2,284.1 181.3,284.9 C181.4,285.8 182.5,286.8 182.3,287.6 C182.2,288.4 181.0,289.0 180.5,289.8 C180.0,290.5 179.7,291.2 179.4,291.9 C179.1,292.7 179.0,293.6 178.7,294.3 C178.3,295.0 177.5,295.4 177.3,296.3 C177.1,297.2 177.9,298.9 177.4,299.6 C177.0,300.3 175.3,300.0 174.5,300.4 C173.7,300.8 173.3,301.5 172.6,302.0 C172.0,302.5 171.3,303.0 170.6,303.5 C169.9,303.9 169.1,304.0 168.5,304.7 C167.9,305.4 167.8,307.5 167.0,307.7 C166.3,308.0 164.6,306.0 163.8,306.2 C162.9,306.3 162.6,308.5 161.8,308.6 C161.0,308.8 159.9,307.5 159.0,307.2 C158.2,307.0 157.4,307.1 156.6,307.2 C155.8,307.2 154.9,307.7 154.1,307.6 C153.3,307.6 152.6,306.8 151.7,306.9 C150.9,307.0 149.6,308.4 148.8,308.1 C148.0,307.9 147.8,306.0 147.1,305.5 C146.4,304.9 145.4,305.2 144.7,304.8 C143.9,304.5 143.4,303.8 142.7,303.3 C142.1,302.7 141.5,302.2 140.8,301.7 C140.2,301.2 139.3,300.9 138.7,300.4 C138.1,299.9 137.9,299.0 137.1,298.5 C136.3,298.0 134.6,298.2 134.1,297.5 C133.6,296.9 134.3,295.4 134.2,294.5 C134.1,293.6 133.9,292.8 133.4,292.1 C132.9,291.4 131.6,291.0 131.3,290.2 C131.1,289.4 131.9,288.3 131.9,287.4 C131.9,286.5 131.8,285.8 131.4,285.0 C131.0,284.2 129.6,283.3 129.6,282.5 C129.6,281.7 130.9,280.8 131.4,280.0 C131.9,279.2 132.2,278.5 132.4,277.7 C132.6,276.9 132.6,276.1 132.8,275.3 C133.0,274.5 133.4,273.8 133.7,273.0 C134.0,272.3 134.4,271.6 134.7,270.8 C135.0,270.1 135.2,269.2 135.6,268.5 C136.0,267.8 136.6,267.2 137.2,266.6 C137.7,265.9 138.3,265.3 138.9,264.8 C139.5,264.2 140.2,263.8 140.8,263.3 C141.5,262.8 142.2,262.4 142.6,261.6 C143.1,260.8 143.0,258.8 143.7,258.4 C144.4,258.0 146.2,259.7 147.1,259.4 C147.9,259.2 148.0,257.1 148.8,256.9 C149.6,256.7 150.9,258.3 151.8,258.1 C152.6,258.0 153.2,256.2 154.0,256.0 C154.8,255.9 155.8,257.0 156.6,257.3 C157.4,257.6 158.2,257.6 159.0,257.8 C159.8,257.9 160.5,258.4 161.4,258.2 C162.3,258.0 163.6,256.5 164.4,256.7 C165.2,256.9 165.6,258.7 166.2,259.2 C166.9,259.8 167.9,259.7 168.5,260.2 C169.2,260.6 169.7,261.4 170.4,261.9 C171.0,262.4 171.9,262.6 172.5,263.1 C173.2,263.6 173.8,264.1 174.4,264.7 C174.9,265.3 175.4,266.0 175.9,266.6 C176.5,267.3 177.1,267.8 177.6,268.5 C178.1,269.1 178.4,269.9 178.7,270.7 C179.0,271.5 179.2,272.3 179.5,273.0 C179.7,273.8 180.0,274.5 180.3,275.3 C180.5,276.1 180.7,276.9 180.9,277.7 C181.2,278.4 181.6,279.2 181.7,280.0 C181.8,280.8 181.7,281.7 181.7,282.5Z" fill="#f5b6b6" stroke="#cf8c8f" stroke-width="1.1"/>
<path d="M174.2,282.5 C174.3,284.2 172.8,286.2 171.7,287.7 C170.7,289.3 169.5,291.1 167.9,291.9 C166.4,292.8 164.1,292.9 162.2,292.9 C160.3,293.0 158.0,292.9 156.4,292.1 C154.7,291.3 153.0,289.6 152.2,288.0 C151.4,286.4 151.6,284.3 151.6,282.5 C151.5,280.7 151.3,278.6 152.1,277.0 C152.9,275.3 154.6,273.6 156.3,272.7 C157.9,271.8 160.2,271.5 162.2,271.4 C164.2,271.4 166.7,271.5 168.3,272.5 C169.9,273.5 170.7,275.6 171.6,277.3 C172.6,279.0 174.2,280.8 174.2,282.5Z" fill="#d8868c"/>
<circle cx="165.1" cy="294.4" r="0.9" fill="#e49ea1"/>
<circle cx="138.8" cy="282.9" r="0.9" fill="#e49ea1"/>
<circle cx="141.2" cy="288.4" r="0.9" fill="#e49ea1"/>
<circle cx="161.1" cy="268.1" r="0.9" fill="#e49ea1"/>
<circle cx="172.3" cy="272.2" r="0.9" fill="#e49ea1"/>
<circle cx="136.9" cy="277.0" r="0.9" fill="#e49ea1"/>
<circle cx="157.8" cy="298.1" r="0.9" fill="#e49ea1"/>
<path d="M204.0,238.5 C204.0,239.6 202.7,240.7 202.3,241.8 C201.8,242.9 201.7,243.9 201.4,245.0 C201.1,246.0 200.8,247.1 200.5,248.1 C200.1,249.1 199.8,250.2 199.4,251.2 C199.0,252.2 198.5,253.1 198.0,254.1 C197.6,255.1 197.5,256.4 196.9,257.3 C196.3,258.2 195.1,258.7 194.4,259.5 C193.6,260.3 192.8,260.9 192.4,262.1 C192.0,263.3 192.5,265.7 191.7,266.4 C190.9,267.2 188.8,266.4 187.6,266.6 C186.3,266.8 185.3,266.9 184.4,267.7 C183.6,268.5 183.2,270.4 182.4,271.3 C181.5,272.1 180.4,272.9 179.2,272.8 C178.0,272.8 176.4,270.9 175.3,271.2 C174.1,271.4 173.4,274.2 172.3,274.4 C171.3,274.6 169.9,272.7 168.8,272.3 C167.7,271.8 166.6,271.7 165.5,271.6 C164.5,271.4 163.3,271.6 162.3,271.4 C161.2,271.2 160.1,270.9 159.1,270.5 C158.0,270.2 157.1,269.7 156.0,269.3 C155.0,269.0 153.7,269.0 152.8,268.5 C151.8,267.9 151.5,266.4 150.4,266.0 C149.4,265.6 147.1,266.6 146.2,266.0 C145.3,265.4 145.5,263.4 145.0,262.3 C144.4,261.3 143.5,260.7 142.8,259.8 C142.2,258.9 141.6,258.0 141.0,257.1 C140.3,256.2 139.5,255.4 139.0,254.5 C138.4,253.5 137.9,252.5 137.6,251.4 C137.2,250.4 137.4,249.2 136.9,248.2 C136.3,247.2 134.4,246.4 134.2,245.4 C134.1,244.3 135.5,242.9 135.7,241.8 C136.0,240.6 135.6,239.6 135.5,238.5 C135.4,237.4 135.0,236.3 135.0,235.2 C135.0,234.1 135.7,233.1 135.6,231.9 C135.5,230.7 134.1,229.1 134.5,228.1 C134.9,227.1 137.1,226.6 138.0,225.7 C138.8,224.9 139.2,223.9 139.7,222.9 C140.2,222.0 140.7,221.0 141.1,220.0 C141.6,219.0 141.9,217.8 142.6,217.0 C143.3,216.1 144.4,215.7 145.3,215.0 C146.1,214.3 146.9,213.6 147.8,212.9 C148.6,212.2 149.4,211.4 150.3,210.8 C151.1,210.1 151.9,209.2 152.9,208.8 C153.9,208.3 155.3,208.8 156.2,208.0 C157.1,207.2 157.3,204.2 158.3,203.9 C159.3,203.5 161.1,205.9 162.3,205.8 C163.5,205.7 164.2,203.5 165.3,203.2 C166.4,202.8 167.6,203.7 168.8,203.7 C170.0,203.7 171.2,202.9 172.3,203.2 C173.4,203.6 174.3,205.1 175.3,205.7 C176.3,206.3 177.4,206.5 178.4,206.8 C179.5,207.1 180.4,207.7 181.5,207.8 C182.7,207.9 184.5,206.8 185.5,207.3 C186.4,207.8 186.5,209.9 187.3,210.8 C188.0,211.7 189.1,212.1 190.0,212.7 C190.9,213.3 192.0,213.8 192.7,214.6 C193.5,215.3 193.7,216.6 194.5,217.4 C195.3,218.2 196.9,218.4 197.6,219.3 C198.2,220.2 198.0,221.6 198.5,222.6 C198.9,223.7 199.7,224.5 200.0,225.6 C200.4,226.6 200.3,227.8 200.7,228.8 C201.0,229.9 201.8,230.8 202.1,231.9 C202.3,232.9 202.0,234.1 202.3,235.2 C202.6,236.3 204.0,237.4 204.0,238.5Z" fill="#f5b6b6" stroke="#cf8c8f" stroke-width="1.1"/>
<path d="M190.5,243.1 C190.7,245.5 189.6,248.7 188.2,250.6 C186.7,252.6 183.9,253.7 181.6,254.9 C179.3,256.1 176.8,257.7 174.4,257.7 C172.0,257.6 169.5,255.9 167.4,254.6 C165.3,253.4 162.8,252.1 161.6,250.1 C160.3,248.2 159.5,245.4 159.7,243.1 C159.8,240.8 161.1,238.5 162.3,236.5 C163.6,234.5 165.0,232.2 167.0,231.0 C169.1,229.8 171.9,229.3 174.4,229.2 C176.9,229.2 179.8,229.6 181.9,230.8 C184.0,231.9 185.5,234.2 186.9,236.2 C188.4,238.3 190.3,240.7 190.5,243.1Z" fill="#d8868c"/>
<circle cx="181.3" cy="257.8" r="0.9" fill="#e49ea1"/>
<circle cx="149.0" cy="241.6" r="0.9" fill="#e49ea1"/>
<circle cx="158.1" cy="220.4" r="0.9" fill="#e49ea1"/>
<circle cx="187.4" cy="250.8" r="0.9" fill="#e49ea1"/>
<circle cx="151.2" cy="247.8" r="0.9" fill="#e49ea1"/>
<circle cx="145.6" cy="225.2" r="0.9" fill="#e49ea1"/>
<circle cx="143.5" cy="229.7" r="0.9" fill="#e49ea1"/>
<ellipse cx="121.0" cy="135.3" rx="5.5" ry="4.5" transform="rotate(0.0 121.0 135.3)" fill="#f5b6b6" stroke="#cf8c8f" stroke-width="1"/>
<ellipse cx="142.5" cy="130.6" rx="5.0" ry="3.5" transform="rotate(28.6 142.5 130.6)" fill="#f5b6b6" stroke="#cf8c8f" stroke-width="1"/>
<ellipse cx="162.2" cy="138.0" rx="9.0" ry="4.5" transform="rotate(34.4 162.2 138.0)" fill="#f5b6b6" stroke="#cf8c8f" stroke-width="1"/>
<ellipse cx="98.4" cy="136.2" rx="3.0" ry="6.0" transform="rotate(0.0 98.4 136.2)" fill="#f5b6b6" stroke="#cf8c8f" stroke-width="1"/>
<ellipse cx="155.6" cy="145.6" rx="2.0" ry="2.0" transform="rotate(0.0 155.6 145.6)" fill="#f5b6b6" stroke="#cf8c8f" stroke-width="1"/>
<ellipse cx="113.0" cy="181.0" rx="7.0" ry="6.0" transform="rotate(0.0 113.0 181.0)" fill="#f5b6b6" stroke="#cf8c8f" stroke-width="1"/>
<ellipse cx="150.0" cy="190.0" rx="11.0" ry="8.0" transform="rotate(0.0 150.0 190.0)" fill="#f5b6b6" stroke="#cf8c8f" stroke-width="1"/>
<ellipse cx="126.0" cy="200.0" rx="8.0" ry="6.0" transform="rotate(0.0 126.0 200.0)" fill="#f5b6b6" stroke="#cf8c8f" stroke-width="1"/>
<ellipse cx="103.0" cy="172.0" rx="6.0" ry="8.0" transform="rotate(0.0 103.0 172.0)" fill="#f5b6b6" stroke="#cf8c8f" stroke-width="1"/>
<ellipse cx="180.0" cy="196.0" rx="8.0" ry="7.0" transform="rotate(0.0 180.0 196.0)" fill="#f5b6b6" stroke="#cf8c8f" stroke-width="1"/>
<ellipse cx="195.0" cy="233.0" rx="6.0" ry="5.0" transform="rotate(0.0 195.0 233.0)" fill="#f5b6b6" stroke="#cf8c8f" stroke-width="1"/>
<ellipse cx="222.0" cy="210.0" rx="6.0" ry="5.0" transform="rotate(0.0 222.0 210.0)" fill="#f5b6b6" stroke="#cf8c8f" stroke-width="1"/>
<ellipse cx="270.0" cy="217.8" rx="9.0" ry="7.0" transform="rotate(0.0 270.0 217.8)" fill="#f5b6b6" stroke="#cf8c8f" stroke-width="1"/>
<ellipse cx="271.0" cy="235.6" rx="10.0" ry="6.0" transform="rotate(11.5 271.0 235.6)" fill="#f5b6b6" stroke="#cf8c8f" stroke-width="1"/>
<ellipse cx="267.2" cy="198.0" rx="8.0" ry="5.0" transform="rotate(22.9 267.2 198.0)" fill="#f5b6b6" stroke="#cf8c8f" stroke-width="1"/>
<ellipse cx="247.5" cy="263.8" rx="7.0" ry="5.0" transform="rotate(0.0 247.5 263.8)" fill="#f5b6b6" stroke="#cf8c8f" stroke-width="1"/>
<ellipse cx="274.0" cy="252.0" rx="2.0" ry="4.0" transform="rotate(0.0 274.0 252.0)" fill="#f5b6b6" stroke="#cf8c8f" stroke-width="1"/>
<ellipse cx="226.0" cy="249.0" rx="6.0" ry="4.0" transform="rotate(0.0 226.0 249.0)" fill="#f5b6b6" stroke="#cf8c8f" stroke-width="1"/>
<ellipse cx="146.0" cy="208.0" rx="8.0" ry="6.0" transform="rotate(17.2 146.0 208.0)" fill="#f5b6b6" stroke="#cf8c8f" stroke-width="1"/>
<ellipse cx="143.4" cy="153.5" rx="3.5" ry="3.5" fill="#d8868c"/>
<ellipse cx="137.8" cy="176.6" rx="5.5" ry="4.0" fill="#d8868c"/>
<ellipse cx="249.4" cy="212.0" rx="3.5" ry="3.5" fill="#d8868c"/>
<ellipse cx="244.7" cy="236.6" rx="5.0" ry="3.5" fill="#d8868c"/>
<ellipse cx="214.0" cy="228.0" rx="6.0" ry="3.0" fill="#d8868c"/>
<ellipse cx="226.0" cy="222.0" rx="4.0" ry="3.0" fill="#d8868c"/>
<ellipse cx="150.0" cy="183.0" rx="4.0" ry="3.0" fill="#d8868c"/>
<ellipse cx="978.3" cy="434.2" rx="180.8" ry="174.5" fill="#dcf4d7" stroke="#74a86a" stroke-width="3"/>
<circle cx="999.5" cy="361" r="84.3" fill="#bfe1b4" stroke="#abd4a1" stroke-width="3"/>
<path d="M798.2,450.0 L797.9,446.4 L797.7,442.8 L797.6,439.2 L797.5,435.5 L797.5,431.9 L797.6,428.3 L797.8,424.7 L798.0,421.1 L798.3,417.4 L798.7,413.8 L799.2,410.2 L799.8,406.7 L800.4,403.1 L801.1,399.5 L801.9,396.0 L802.7,392.5 L803.7,388.9 L804.7,385.5 L805.8,382.0 L806.9,378.5 L808.2,375.1 L809.5,371.7 L810.9,368.4 L812.3,365.0 L813.8,361.7 L815.4,358.4 L817.1,355.2 L818.8,352.0 L820.6,348.8 L822.5,345.6 L824.5,342.5 L826.5,339.5 L828.5,336.4 L830.7,333.5 L832.9,330.5 L835.1,327.6 L837.5,324.8 L839.8,322.0 L842.3,319.2 L844.8,316.5" fill="none" stroke="#9a4278" stroke-width="7.2"/>
<path d="M903.3,593.0 L900.0,591.5 L896.7,589.9 L893.5,588.3 L890.3,586.6 L887.1,584.9 L883.9,583.0 L880.8,581.2 L877.8,579.2 L874.8,577.2 L871.8,575.2 L868.8,573.1 L865.9,570.9 L863.1,568.7 L860.3,566.4 L857.6,564.1 L854.9,561.7 L852.2,559.3 L849.6,556.8 L847.1,554.2 L844.6,551.6 L842.1,549.0 L839.8,546.3 L837.4,543.6 L835.2,540.8 L833.0,538.0 L830.8,535.1 L828.7,532.2 L826.7,529.3 L824.7,526.3 L822.8,523.3 L821.0,520.2 L819.2,517.1 L817.5,514.0 L815.9,510.9 L814.3,507.7 L812.8,504.5 L811.4,501.2 L810.0,497.9 L808.7,494.6 L807.5,491.3" fill="none" stroke="#9a4278" stroke-width="7.2"/>
<path d="M1078.1,579.7 L1074.7,581.9 L1071.2,583.9 L1067.6,585.9 L1064.0,587.8 L1060.4,589.7 L1056.7,591.4 L1053.0,593.1 L1049.3,594.7 L1045.5,596.2 L1041.7,597.6 L1037.8,599.0 L1034.0,600.2 L1030.1,601.4 L1026.1,602.5 L1022.2,603.5 L1018.2,604.4 L1014.2,605.2 L1010.1,606.0 L1006.1,606.6 L1002.1,607.2 L998.0,607.7 L993.9,608.0 L989.8,608.3 L985.7,608.6 L981.7,608.7 L977.6,608.7 L973.5,608.6 L969.4,608.5 L965.3,608.2 L961.2,607.9 L957.1,607.5 L953.1,607.0 L949.0,606.4 L945.0,605.7 L941.0,604.9 L937.0,604.1 L933.0,603.1 L929.1,602.1 L925.1,601.0 L921.2,599.8" fill="none" stroke="#9a4278" stroke-width="7.2"/>
<path d="M1159.1,431.2 L1159.1,434.9 L1159.0,438.6 L1158.9,442.3 L1158.7,446.0 L1158.4,449.7 L1158.0,453.4 L1157.5,457.1 L1157.0,460.8 L1156.4,464.4 L1155.7,468.1 L1154.9,471.7 L1154.0,475.4 L1153.1,479.0 L1152.0,482.5 L1150.9,486.1 L1149.7,489.6 L1148.5,493.1 L1147.1,496.6 L1145.7,500.1 L1144.2,503.5 L1142.7,506.9 L1141.0,510.3 L1139.3,513.6 L1137.5,516.9 L1135.7,520.1 L1133.7,523.3 L1131.7,526.5 L1129.7,529.6 L1127.5,532.7 L1125.3,535.8 L1123.0,538.8 L1120.7,541.7 L1118.3,544.6 L1115.8,547.5 L1113.3,550.3 L1110.7,553.0 L1108.0,555.7 L1105.3,558.4 L1102.6,560.9 L1099.7,563.5" fill="none" stroke="#9a4278" stroke-width="7.2"/>
<line x1="706" y1="244" x2="806.1" y2="375.5" stroke="#8a3f6f" stroke-width="6.2" stroke-dasharray="6.2 6"/>
<line x1="1134.4" y1="524.4" x2="1134.4" y2="575.5" stroke="#8e4476" stroke-width="3.4" stroke-dasharray="5.6 6.9"/>
<path d="M1261,636.8 L1261,606" stroke="#a3487f" stroke-width="2.8"/>
<path d="M1260.9,590.7 L1269.8,608 L1252.3,608 Z" fill="#a3487f"/>
<circle cx="857.9" cy="487" r="10.4" fill="#fad867"/>
<path d="M545.6,616.7 L545.6,478 L822,478" fill="none" stroke="#8d4673" stroke-width="3.7" stroke-linejoin="round"/>
<path d="M836.7,478 L819.5,469.2 L819.5,486.8 Z" fill="#8d4673"/>
<defs><linearGradient id="sqg" gradientUnits="userSpaceOnUse" x1="873" y1="508" x2="950" y2="590"><stop offset="0" stop-color="#9a4a7c" stop-opacity="0"/><stop offset="0.35" stop-color="#9a4a7c" stop-opacity="0.8"/><stop offset="1" stop-color="#9a4a7c"/></linearGradient></defs>
<path d="M873.5,508.5 Q932,538 949.5,586" fill="none" stroke="url(#sqg)" stroke-width="3.3"/>
<path d="M954.5,601 L940,587 L958,580.5 Z" fill="#9a4a7c"/>
<path d="M949.9,606 V663 M965.4,606 V663 M949.9,655.3 H965.4" stroke="#1e3a48" stroke-width="2.2" fill="none"/>
<rect x="943.6" y="661.9" width="12.3" height="27.7" rx="2.2" fill="#1f76a6"/>
<rect x="943.6" y="690.6" width="12.3" height="29.2" rx="2.2" fill="#1f76a6"/>
<rect x="958.8" y="661.9" width="12.6" height="27.7" rx="2.2" fill="#1f76a6"/>
<rect x="958.8" y="690.6" width="12.6" height="29.2" rx="2.2" fill="#1f76a6"/>
<path d="M949.9,768 V797" stroke="#2b1f3a" stroke-width="2.2"/>
<rect x="942.7" y="722.4" width="14.2" height="47.3" rx="2.2" fill="#6b3b88"/>
<rect x="958.8" y="722.4" width="14.2" height="27.4" rx="2.2" fill="#6b3b88"/>
<rect x="958.8" y="752.7" width="14.2" height="16.0" rx="2.2" fill="#6b3b88"/>
<circle cx="957.3" cy="727.5" r="7" fill="#4db04a" stroke="#fff" stroke-width="2"/>
<path d="M988.1,606 V647 M988.1,694 V706" stroke="#1f4f4d" stroke-width="2.2"/>
<rect x="980.9" y="646.7" width="13.2" height="21.5" rx="2.2" fill="#2e9b92"/>
<rect x="980.9" y="669.4" width="13.2" height="24.8" rx="2.2" fill="#2e9b92"/>
<path d="M981,707 L994,705 L993,726 L980.5,728 Z" fill="#2e9b92" stroke="#2e9b92" stroke-width="1.2" stroke-linejoin="round"/>
<path d="M977,731 L993,727.5 L992.5,751.5 L975,752 Z" fill="#2e9b92" stroke="#2e9b92" stroke-width="1.5" stroke-linejoin="round"/>
<path d="M1017.4,604 V650 M1033.5,603 V650 M1017.4,634.4 H1033.5" stroke="#241d3a" stroke-width="2.2" fill="none"/>
<rect x="-10.4" y="-24.5" width="20.8" height="49" rx="10.4" fill="#5a3f8e" transform="translate(1012.7,667.5) rotate(10)"/>
<rect x="-10.4" y="-24.5" width="20.8" height="49" rx="10.4" fill="#5a3f8e" transform="translate(1037.8,667.5) rotate(-10)"/>
<path d="M1016.8,770 V800 M1033.5,770 V802" stroke="#a0643a" stroke-width="2.2"/>
<rect x="1009.3" y="693.1" width="15.1" height="38.8" rx="7.5" fill="#e9a126" stroke="#c98a2a" stroke-width="0.8"/>
<rect x="1009.3" y="732.8" width="15.1" height="38.8" rx="7.5" fill="#e9a126" stroke="#c98a2a" stroke-width="0.8"/>
<rect x="1026.3" y="693.1" width="14.7" height="38.8" rx="7.5" fill="#e9a126" stroke="#c98a2a" stroke-width="0.8"/>
<rect x="1026.3" y="732.8" width="14.7" height="38.8" rx="7.5" fill="#e9a126" stroke="#c98a2a" stroke-width="0.8"/>
<circle cx="826.3" cy="611.3" r="3.3" fill="#6a4d94"/>
<circle cx="778.9" cy="667.1" r="3.3" fill="#6a4d94"/>
<circle cx="803.2" cy="667.1" r="3.3" fill="#6a4d94"/>
<circle cx="827.6" cy="658.6" r="3.3" fill="#6a4d94"/>
<circle cx="830.4" cy="714.6" r="3.3" fill="#6a4d94"/>
<circle cx="808.8" cy="736.2" r="3.3" fill="#6a4d94"/>
<circle cx="826.6" cy="770.6" r="3.3" fill="#6a4d94"/>
<circle cx="797.9" cy="608.4" r="2.4" fill="#8c82a4"/>
<circle cx="793.1" cy="659.5" r="2.4" fill="#8c82a4"/>
<circle cx="838.2" cy="649.5" r="2.4" fill="#8c82a4"/>
<circle cx="856.2" cy="663.7" r="2.4" fill="#8c82a4"/>
<circle cx="796.9" cy="686.8" r="2.4" fill="#8c82a4"/>
<circle cx="798.8" cy="705.5" r="2.4" fill="#8c82a4"/>
<circle cx="794.4" cy="723.3" r="2.4" fill="#8c82a4"/>
<circle cx="834.2" cy="739.8" r="2.4" fill="#8c82a4"/>
<circle cx="850.1" cy="776.7" r="2.4" fill="#8c82a4"/>
<circle cx="840.4" cy="581.9" r="2.9" fill="#bdbcc6"/>
<circle cx="773.6" cy="640.6" r="2.9" fill="#bdbcc6"/>
<circle cx="805.0" cy="637.2" r="2.9" fill="#bdbcc6"/>
<circle cx="849.0" cy="632.1" r="2.9" fill="#bdbcc6"/>
<circle cx="838.2" cy="670.9" r="2.9" fill="#bdbcc6"/>
<circle cx="824.7" cy="684.9" r="2.9" fill="#bdbcc6"/>
<circle cx="824.4" cy="701.9" r="2.9" fill="#bdbcc6"/>
<circle cx="818.7" cy="752.1" r="2.9" fill="#bdbcc6"/>
<g id="dc"><path d="M865.1,791.0 L865.1,790.8 L865.1,790.5 L865.1,790.3 L865.1,790.0 L865.2,789.8 L865.2,789.6 L865.3,789.3 L865.3,789.1 L865.4,788.9 L865.5,788.6 L865.6,788.4 L865.7,788.2 L865.8,788.0 L865.9,787.8 L866.0,787.6 L866.1,787.3 L866.2,787.1 L866.4,786.9 L866.5,786.7 L866.7,786.6 L866.8,786.4 L867.0,786.2 L867.2,786.0 L867.3,785.9 L867.5,785.7 L867.7,785.6 L867.9,785.4 L868.1,785.3 L868.3,785.1 L868.5,785.0 L868.7,784.9 L868.9,784.8 L869.2,784.7 L869.4,784.6 L869.6,784.5 L869.8,784.4 L870.1,784.3 L870.3,784.3 L870.5,784.2 L870.8,784.2 L871.0,784.1 L871.2,784.1 L871.5,784.1 L871.7,784.1 L872.0,784.1 L872.2,784.1 L872.4,784.1 L872.7,784.1 L872.9,784.1 L873.2,784.2 L873.4,784.2 L873.6,784.3 L873.9,784.3 L874.1,784.4 L874.3,784.5 L874.6,784.6 L874.8,784.6 L875.0,784.7 L875.2,784.9 L875.4,785.0 L875.6,785.1 L875.8,785.2 L876.0,785.4 L876.2,785.5 L876.4,785.7 L876.7,785.9 L877.1,786.3 L877.7,786.9 L878.3,787.5 L879.1,788.3 L880.0,789.2 L880.9,790.3 L882.0,791.4 L883.2,792.6 L884.3,793.7 L885.4,794.8 L886.6,795.9 L887.8,797.0 L888.9,798.1 L890.1,799.2 L891.4,800.2 L892.6,801.2 L893.8,802.2 L895.1,803.0 L896.4,803.9 L897.7,804.6 L899.0,805.3 L900.3,806.0 L901.7,806.6 L903.1,807.1 L904.5,807.4 L906.0,807.7 L907.5,807.8 L909.1,807.8 L910.7,807.6 L912.3,807.4 L914.1,807.0 L915.8,806.6 L917.5,806.2 L919.3,805.7 L921.0,805.2 L922.8,804.7 L924.6,804.2 L926.5,803.6 L928.3,803.1 L930.2,802.5 L932.1,801.9 L934.1,801.4 L936.1,800.9 L938.1,800.4 L940.2,799.9 L942.3,799.5 L944.5,799.0 L946.8,798.6 L949.3,798.2 L951.9,797.9 L954.8,797.6 L957.8,797.3 L960.9,797.0 L964.2,796.8 L967.8,796.5 L971.4,796.4 L975.0,796.4 L978.8,796.6 L982.8,796.8 L986.8,797.1 L990.9,797.5 L995.1,798.1 L999.3,798.7 L1003.5,799.4 L1007.5,800.1 L1011.4,800.8 L1015.2,801.5 L1018.8,802.2 L1022.3,802.9 L1025.6,803.7 L1028.8,804.4 L1031.8,805.0 L1034.5,805.5 L1037.0,805.8 L1039.2,806.0 L1041.3,806.0 L1043.0,805.8 L1044.6,805.5 L1045.9,805.1 L1047.2,804.5 L1048.4,803.9 L1049.6,803.3 L1050.7,802.5 L1051.7,801.7 L1052.8,800.8 L1053.7,799.8 L1054.6,798.7 L1055.5,797.8 L1056.2,797.0 L1056.8,796.2 L1057.4,795.6 L1057.8,795.1 L1058.2,794.8 L1058.5,794.5 L1058.6,794.4 L1058.8,794.2 L1059.0,794.1 L1059.2,793.9 L1059.4,793.8 L1059.6,793.7 L1059.8,793.6 L1060.0,793.5 L1060.2,793.4 L1060.4,793.3 L1060.6,793.2 L1060.8,793.1 L1061.0,793.1 L1061.2,793.0 L1061.4,792.9 L1061.7,792.9 L1061.9,792.9 L1062.1,792.8 L1062.3,792.8 L1062.6,792.8 L1062.8,792.8 L1063.0,792.8 L1063.2,792.8 L1063.5,792.8 L1063.7,792.8 L1063.9,792.8 L1064.1,792.9 L1064.4,792.9 L1064.6,792.9 L1064.8,793.0 L1065.0,793.1 L1065.2,793.1 L1065.4,793.2 L1065.6,793.3 L1065.9,793.4 L1066.1,793.5 L1066.3,793.6 L1066.5,793.7 L1066.6,793.8 L1066.8,794.0 L1067.0,794.1 L1067.2,794.2 L1067.4,794.4 L1067.5,794.5 L1067.7,794.7 L1067.9,794.8 L1068.0,795.0 L1068.2,795.2 L1068.3,795.3 L1068.4,795.5 L1068.6,795.7 L1068.7,795.9 L1068.8,796.1 L1068.9,796.3 L1069.0,796.5 L1069.1,796.7 L1069.2,796.9 L1069.3,797.2 L1069.5,797.7 L1069.7,798.3 L1069.9,799.1 L1070.2,800.0 L1070.5,801.0 L1070.8,802.2 L1071.2,803.5 L1071.6,804.8 L1071.9,806.1 L1072.3,807.5 L1072.6,808.9 L1072.9,810.3 L1073.2,811.7 L1073.6,813.1 L1073.8,814.6 L1074.3,816.0 L1074.8,817.4 L1075.5,818.7 L1076.4,820.0 L1077.3,821.3 L1078.4,822.5 L1079.6,823.7 L1081.0,824.8 L1082.3,825.8 L1083.7,826.7 L1085.0,827.4 L1086.4,828.0 L1087.7,828.5 L1089.1,828.9 L1090.5,829.1 L1091.8,829.1 L1093.2,829.1 L1094.6,829.0 L1095.9,828.8 L1097.3,828.6 L1098.6,828.2 L1100.0,827.8 L1101.3,827.3 L1102.7,826.6 L1104.0,826.0 L1105.4,825.3 L1106.8,824.5 L1108.1,823.7 L1109.5,822.9 L1110.9,822.0 L1112.3,821.0 L1113.6,820.0 L1115.1,819.0 L1116.6,818.0 L1118.2,817.0 L1119.9,816.0 L1121.7,815.0 L1123.5,813.9 L1125.4,812.9 L1127.4,811.9 L1129.1,811.0 L1130.7,810.2 L1132.0,809.5 L1133.1,809.0 L1134.0,808.5 L1134.6,808.2 L1135.1,808.0 L1135.3,807.9 L1135.5,807.9 L1135.8,807.8 L1136.0,807.7 L1136.2,807.7 L1136.5,807.6 L1136.7,807.6 L1136.9,807.6 L1137.2,807.6 L1137.4,807.6 L1137.7,807.6 L1137.9,807.6 L1138.1,807.6 L1138.4,807.6 L1138.6,807.7 L1138.9,807.7 L1139.1,807.8 L1139.3,807.8 L1139.6,807.9 L1139.8,808.0 L1140.0,808.0 L1140.2,808.1 L1140.5,808.2 L1140.7,808.3 L1140.9,808.5 L1141.1,808.6 L1141.3,808.7 L1141.5,808.8 L1141.7,809.0 L1141.9,809.1 L1142.1,809.3 L1142.2,809.4 L1142.4,809.6 L1142.6,809.8 L1142.7,810.0 L1142.9,810.2 L1143.1,810.3 L1143.2,810.5 L1143.3,810.7 L1143.5,810.9 L1143.6,811.2 L1143.7,811.4 L1143.8,811.6 L1143.9,811.8 L1144.0,812.0 L1144.1,812.3 L1144.1,812.5 L1144.2,812.7 L1144.3,813.0 L1144.3,813.2 L1144.4,813.4 L1144.4,813.7 L1144.4,813.9 L1144.4,814.1 L1144.4,814.4 L1144.4,814.6 L1144.4,814.9 L1144.4,815.1 L1144.4,815.3 L1144.3,815.6 L1144.3,815.8 L1144.3,816.1 L1144.2,816.3 L1144.1,816.5 L1144.1,816.8 L1144.0,817.0 L1143.9,817.2 L1143.8,817.4 L1143.7,817.6 L1143.6,817.9 L1143.4,818.1 L1143.3,818.3 L1143.2,818.5 L1142.9,818.8 L1142.5,819.3 L1142.0,819.9 L1141.3,820.7 L1140.5,821.6 L1139.5,822.7 L1138.5,823.9 L1137.2,825.3 L1136.1,826.6 L1134.9,827.9 L1133.7,829.3 L1132.6,830.6 L1131.4,831.9 L1130.3,833.2 L1129.2,834.5 L1128.1,835.7 L1127.0,837.1 L1125.9,838.5 L1124.9,840.0 L1123.8,841.5 L1122.7,843.1 L1121.6,844.8 L1120.6,846.5 L1119.5,848.3 L1118.6,850.1 L1117.8,851.8 L1117.1,853.5 L1116.6,855.1 L1116.2,856.8 L1115.9,858.3 L1115.8,859.9 L1115.8,861.4 L1115.9,862.9 L1116.1,864.5 L1116.5,866.0 L1116.9,867.6 L1117.5,869.2 L1118.2,870.8 L1119.0,872.5 L1119.9,874.1 L1120.9,875.7 L1121.9,877.1 L1123.0,878.5 L1124.1,879.7 L1125.3,880.8 L1126.5,881.9 L1127.8,882.8 L1129.2,883.6 L1130.5,884.2 L1131.8,884.7 L1133.2,885.0 L1134.5,885.0 L1135.8,884.9 L1137.0,884.6 L1138.3,884.1 L1139.6,883.4 L1140.9,882.7 L1142.2,881.9 L1143.6,881.1 L1145.0,880.2 L1146.5,879.3 L1148.0,878.3 L1149.5,877.3 L1151.1,876.3 L1152.5,875.4 L1153.8,874.6 L1154.8,873.9 L1155.7,873.3 L1156.5,872.9 L1157.0,872.5 L1157.4,872.3 L1157.6,872.2 L1157.9,872.1 L1158.1,872.0 L1158.3,871.9 L1158.6,871.8 L1158.8,871.8 L1159.0,871.7 L1159.3,871.7 L1159.5,871.6 L1159.8,871.6 L1160.0,871.6 L1160.3,871.6 L1160.5,871.6 L1160.7,871.6 L1161.0,871.6 L1161.2,871.6 L1161.5,871.6 L1161.7,871.7 L1162.0,871.7 L1162.2,871.8 L1162.4,871.8 L1162.7,871.9 L1162.9,872.0 L1163.1,872.1 L1163.4,872.2 L1163.6,872.3 L1163.8,872.4 L1164.0,872.5 L1164.2,872.7 L1164.4,872.8 L1164.6,872.9 L1164.8,873.1 L1165.0,873.2 L1165.2,873.4 L1165.4,873.6 L1165.5,873.7 L1165.7,873.9 L1165.9,874.1 L1166.0,874.3 L1166.2,874.5 L1166.3,874.7 L1166.4,874.9 L1166.6,875.1 L1166.7,875.3 L1166.8,875.6 L1166.9,875.8 L1167.0,876.0 L1167.1,876.2 L1167.1,876.5 L1167.2,876.7 L1167.3,876.9 L1167.3,877.2 L1167.3,877.4 L1167.4,877.7 L1167.4,877.9 L1167.4,878.2 L1167.4,878.4 L1167.4,878.6 L1167.4,878.9 L1167.4,879.1 L1167.4,879.4 L1167.3,879.6 L1167.3,879.9 L1167.2,880.1 L1167.2,880.3 L1167.0,880.8 L1166.8,881.5 L1166.4,882.5 L1165.9,883.6 L1165.4,885.0 L1164.7,886.7 L1163.9,888.5 L1163.0,890.6 L1162.2,892.7 L1161.3,894.6 L1160.5,896.5 L1159.6,898.3 L1158.7,900.0 L1157.9,901.7 L1157.0,903.2 L1156.2,904.8 L1155.3,906.3 L1154.5,907.9 L1153.7,909.5 L1152.9,911.2 L1152.2,913.0 L1151.4,914.7 L1150.7,916.6 L1150.0,918.4 L1149.3,920.3 L1148.8,922.2 L1148.2,924.0 L1147.8,925.9 L1147.4,927.7 L1147.0,929.5 L1146.8,931.3 L1146.5,933.2 L1146.4,935.1 L1146.2,937.3 L1146.1,939.7 L1146.0,942.2 L1145.9,944.9 L1145.8,947.7 L1145.8,950.8 L1145.8,954.0 L1145.7,957.2 L1145.6,960.4 L1145.3,963.5 L1145.0,966.6 L1144.6,969.6 L1144.2,972.7 L1143.6,975.7 L1143.0,978.6 L1142.3,981.6 L1141.6,984.5 L1140.8,987.3 L1140.0,990.2 L1139.2,993.0 L1138.3,995.8 L1137.3,998.5 L1136.4,1001.2 L1135.4,1003.9 L1134.6,1006.4 L1133.8,1009.0 L1133.1,1011.4 L1132.5,1013.9 L1131.9,1016.2 L1131.4,1018.5 L1131.0,1020.7 L1130.7,1022.8 L1130.6,1024.8 L1130.6,1026.7 L1130.8,1028.5 L1131.1,1030.1 L1131.5,1031.7 L1132.1,1033.1 L1132.9,1034.4 L1133.7,1035.7 L1134.6,1037.0 L1135.6,1038.2 L1136.7,1039.4 L1137.9,1040.6 L1139.2,1041.8 L1140.5,1042.9 L1142.0,1044.1 L1143.5,1045.3 L1145.0,1046.5 L1146.6,1047.8 L1148.3,1049.2 L1150.0,1050.6 L1151.8,1052.1 L1153.7,1053.7 L1155.6,1055.3 L1157.3,1056.8 L1158.7,1058.1 L1160.0,1059.2 L1161.0,1060.1 L1161.8,1060.8 L1162.4,1061.3 L1162.8,1061.7 L1162.9,1061.9 L1163.1,1062.0 L1163.2,1062.2 L1163.3,1062.4 L1163.5,1062.6 L1163.6,1062.8 L1163.7,1063.0 L1163.8,1063.2 L1163.9,1063.4 L1164.0,1063.6 L1164.1,1063.8 L1164.1,1064.1 L1164.2,1064.3 L1164.3,1064.5 L1164.3,1064.7 L1164.3,1065.0 L1164.4,1065.2 L1164.4,1065.4 L1164.4,1065.6 L1164.4,1065.9 L1164.4,1066.1 L1164.4,1066.3 L1164.4,1066.6 L1164.4,1066.8 L1164.4,1067.0 L1164.3,1067.3 L1164.3,1067.5 L1164.2,1067.7 L1164.1,1067.9 L1164.1,1068.1 L1164.0,1068.4 L1163.9,1068.6 L1163.8,1068.8 L1163.7,1069.0 L1163.6,1069.2 L1163.5,1069.4 L1163.3,1069.6 L1163.2,1069.8 L1163.1,1070.0 L1162.9,1070.1 L1162.8,1070.3 L1162.6,1070.5 L1162.5,1070.6 L1162.3,1070.8 L1162.1,1070.9 L1161.9,1071.1 L1161.8,1071.2 L1161.6,1071.4 L1161.4,1071.5 L1161.2,1071.6 L1161.0,1071.7 L1160.8,1071.8 L1160.5,1071.9 L1160.3,1072.0 L1160.1,1072.1 L1159.9,1072.1 L1159.7,1072.2 L1159.5,1072.3 L1159.2,1072.3 L1159.0,1072.4 L1158.8,1072.4 L1158.5,1072.4 L1158.3,1072.4 L1158.1,1072.4 L1157.9,1072.4 L1157.6,1072.4 L1157.4,1072.4 L1157.2,1072.4 L1156.9,1072.3 L1156.7,1072.3 L1156.5,1072.3 L1156.3,1072.2 L1156.0,1072.1 L1155.6,1072.0 L1155.1,1071.7 L1154.4,1071.4 L1153.5,1071.0 L1152.4,1070.6 L1151.2,1070.0 L1149.8,1069.4 L1148.3,1068.6 L1146.6,1067.9 L1145.0,1067.1 L1143.3,1066.3 L1141.5,1065.4 L1139.7,1064.5 L1137.8,1063.6 L1135.9,1062.6 L1133.9,1061.7 L1131.9,1060.8 L1129.9,1060.0 L1127.8,1059.3 L1125.7,1058.8 L1123.6,1058.3 L1121.4,1058.0 L1119.2,1057.8 L1117.0,1057.6 L1114.8,1057.6 L1112.7,1057.8 L1110.7,1058.0 L1108.7,1058.4 L1106.8,1058.9 L1105.0,1059.5 L1103.2,1060.2 L1101.4,1061.1 L1099.8,1062.1 L1098.3,1063.1 L1096.9,1064.3 L1095.6,1065.6 L1094.4,1067.0 L1093.3,1068.6 L1092.3,1070.2 L1091.5,1071.9 L1090.7,1073.7 L1090.1,1075.7 L1089.6,1077.7 L1089.2,1079.8 L1089.0,1082.0 L1088.8,1084.2 L1088.8,1086.6 L1089.0,1089.1 L1089.1,1091.4 L1089.4,1093.7 L1089.7,1095.8 L1090.0,1097.9 L1090.5,1099.8 L1090.9,1101.7 L1091.5,1103.4 L1092.1,1105.1 L1092.6,1106.5 L1093.0,1107.8 L1093.4,1108.9 L1093.7,1109.9 L1094.0,1110.6 L1094.2,1111.2 L1094.3,1111.6 L1094.3,1111.8 L1094.4,1112.1 L1094.4,1112.3 L1094.4,1112.6 L1094.4,1112.8 L1094.4,1113.0 L1094.4,1113.3 L1094.4,1113.5 L1094.4,1113.7 L1094.4,1114.0 L1094.3,1114.2 L1094.3,1114.4 L1094.2,1114.7 L1094.1,1114.9 L1094.1,1115.1 L1094.0,1115.3 L1093.9,1115.6 L1093.8,1115.8 L1093.7,1116.0 L1093.6,1116.2 L1093.5,1116.4 L1093.3,1116.6 L1093.2,1116.8 L1093.1,1117.0 L1092.9,1117.2 L1092.7,1117.3 L1092.6,1117.5 L1092.4,1117.7 L1092.2,1117.8 L1092.1,1118.0 L1091.9,1118.1 L1091.7,1118.3 L1091.5,1118.4 L1091.3,1118.5 L1091.1,1118.6 L1090.9,1118.8 L1090.7,1118.9 L1090.4,1118.9 L1090.2,1119.0 L1090.0,1119.1 L1089.8,1119.2 L1089.5,1119.2 L1089.3,1119.3 L1089.1,1119.3 L1088.8,1119.4 L1088.6,1119.4 L1088.4,1119.4 L1088.1,1119.4 L1087.9,1119.4 L1087.7,1119.4 L1087.4,1119.4 L1087.2,1119.4 L1087.0,1119.3 L1086.7,1119.3 L1086.5,1119.3 L1086.3,1119.2 L1086.0,1119.1 L1085.6,1119.0 L1084.9,1118.7 L1084.1,1118.3 L1083.0,1117.8 L1081.7,1117.2 L1080.2,1116.5 L1078.4,1115.7 L1076.5,1114.8 L1074.5,1113.9 L1072.5,1113.0 L1070.5,1112.2 L1068.4,1111.4 L1066.3,1110.6 L1064.1,1109.8 L1061.9,1109.0 L1059.7,1108.3 L1057.6,1107.6 L1055.6,1107.1 L1053.7,1106.6 L1051.9,1106.1 L1050.2,1105.8 L1048.7,1105.6 L1047.3,1105.4 L1045.9,1105.3 L1044.5,1105.3 L1043.0,1105.4 L1041.4,1105.6 L1039.7,1105.8 L1038.0,1106.2 L1036.1,1106.7 L1034.2,1107.2 L1032.1,1107.8 L1030.0,1108.5 L1027.6,1109.2 L1025.2,1109.9 L1022.6,1110.6 L1019.9,1111.4 L1017.1,1112.2 L1014.1,1113.0 L1010.9,1113.9 L1007.8,1114.6 L1004.7,1115.3 L1001.6,1115.9 L998.4,1116.3 L995.3,1116.7 L992.2,1117.0 L989.1,1117.2 L985.9,1117.2 L982.8,1117.3 L979.7,1117.3 L976.6,1117.2 L973.4,1117.1 L970.3,1117.0 L967.2,1116.9 L964.1,1116.7 L960.9,1116.4 L957.9,1116.2 L954.8,1115.9 L951.8,1115.7 L948.8,1115.4 L945.9,1115.1 L943.0,1114.8 L940.2,1114.5 L937.3,1114.2 L934.6,1114.0 L932.1,1113.8 L929.6,1113.8 L927.3,1113.8 L925.0,1114.0 L922.9,1114.2 L920.9,1114.5 L919.1,1114.9 L917.3,1115.3 L915.6,1115.8 L914.0,1116.2 L912.4,1116.7 L911.0,1117.3 L909.6,1117.8 L908.3,1118.4 L907.2,1118.9 L905.9,1119.5 L904.6,1120.0 L903.3,1120.5 L901.8,1121.0 L900.4,1121.4 L898.8,1121.9 L897.3,1122.2 L895.6,1122.6 L894.2,1122.9 L892.9,1123.2 L891.8,1123.4 L890.8,1123.6 L890.1,1123.8 L889.5,1123.9 L889.1,1123.9 L888.9,1123.9 L888.7,1123.9 L888.4,1123.9 L888.2,1123.9 L888.0,1123.9 L887.8,1123.9 L887.6,1123.9 L887.3,1123.8 L887.1,1123.8 L886.9,1123.7 L886.7,1123.7 L886.5,1123.6 L886.3,1123.5 L886.1,1123.5 L885.9,1123.4 L885.7,1123.3 L885.5,1123.2 L885.3,1123.1 L885.1,1123.0 L884.9,1122.8 L884.7,1122.7 L884.6,1122.6 L884.4,1122.4 L884.2,1122.3 L884.0,1122.2 L883.9,1122.0 L883.7,1121.8 L883.6,1121.7 L883.5,1121.5 L883.3,1121.3 L883.2,1121.1 L883.1,1121.0 L883.0,1120.8 L882.8,1120.6 L882.7,1120.4 L882.6,1120.2 L882.6,1120.0 L882.5,1119.8 L882.4,1119.6 L882.3,1119.4 L882.3,1119.2 L882.2,1118.9 L882.2,1118.7 L882.1,1118.5 L882.1,1118.3 L882.1,1118.1 L882.1,1117.8 L882.1,1117.6 L882.1,1117.4 L882.1,1117.2 L882.1,1117.0 L882.1,1116.7 L882.1,1116.5 L882.2,1116.3 L882.2,1116.1 L882.3,1115.9 L882.3,1115.7 L882.4,1115.5 L882.5,1115.2 L882.5,1115.0 L882.6,1114.8 L882.7,1114.6 L882.8,1114.4 L882.9,1114.2 L883.1,1114.1 L883.2,1113.9 L883.3,1113.7 L883.4,1113.5 L883.6,1113.3 L883.7,1113.2 L883.9,1113.0 L884.0,1112.9 L884.2,1112.7 L884.5,1112.5 L885.0,1112.1 L885.6,1111.7 L886.3,1111.1 L887.2,1110.5 L888.2,1109.7 L889.4,1108.9 L890.7,1108.0 L892.0,1107.0 L893.0,1106.0 L894.0,1104.9 L894.9,1103.8 L895.6,1102.6 L896.2,1101.4 L896.7,1100.2 L897.1,1098.9 L897.3,1097.6 L897.4,1096.2 L897.2,1094.8 L897.0,1093.3 L896.5,1091.8 L896.0,1090.3 L895.2,1088.7 L894.3,1087.0 L893.2,1085.4 L892.1,1083.9 L890.7,1082.4 L889.3,1080.9 L887.7,1079.5 L885.9,1078.2 L884.1,1076.8 L882.0,1075.6 L880.0,1074.4 L878.0,1073.3 L875.9,1072.4 L873.8,1071.6 L871.7,1070.9 L869.5,1070.3 L867.3,1069.8 L865.2,1069.4 L862.9,1069.1 L860.7,1069.0 L858.5,1068.9 L856.2,1069.0 L853.9,1069.1 L851.5,1069.4 L849.2,1069.7 L846.8,1070.2 L844.6,1070.6 L842.5,1071.0 L840.6,1071.3 L838.8,1071.6 L837.2,1071.8 L835.7,1072.0 L834.3,1072.1 L833.2,1072.2 L832.0,1072.3 L830.9,1072.3 L829.9,1072.3 L828.9,1072.4 L828.0,1072.3 L827.1,1072.3 L826.3,1072.3 L825.6,1072.2 L824.9,1072.1 L824.2,1072.1 L823.7,1072.0 L823.2,1072.0 L822.7,1071.9 L822.4,1071.8 L822.1,1071.8 L821.9,1071.7 L821.6,1071.7 L821.4,1071.6 L821.2,1071.5 L821.0,1071.5 L820.7,1071.4 L820.5,1071.3 L820.3,1071.2 L820.1,1071.0 L819.9,1070.9 L819.7,1070.8 L819.5,1070.7 L819.3,1070.5 L819.1,1070.4 L818.9,1070.2 L818.8,1070.1 L818.6,1069.9 L818.4,1069.7 L818.3,1069.6 L818.1,1069.4 L818.0,1069.2 L817.8,1069.0 L817.7,1068.8 L817.6,1068.6 L817.5,1068.4 L817.3,1068.2 L817.2,1068.0 L817.1,1067.8 L817.1,1067.6 L817.0,1067.3 L816.9,1067.1 L816.8,1066.9 L816.8,1066.7 L816.7,1066.4 L816.7,1066.2 L816.6,1066.0 L816.6,1065.7 L816.6,1065.5 L816.6,1065.3 L816.6,1065.0 L816.6,1064.8 L816.6,1064.5 L816.6,1064.3 L816.6,1064.1 L816.7,1063.8 L816.7,1063.6 L816.8,1063.4 L816.8,1063.1 L816.9,1062.9 L817.0,1062.7 L817.0,1062.5 L817.1,1062.3 L817.2,1062.0 L817.3,1061.8 L817.4,1061.6 L817.6,1061.4 L817.7,1061.2 L817.8,1061.0 L818.0,1060.8 L818.1,1060.6 L818.3,1060.5 L818.4,1060.3 L818.6,1060.1 L818.7,1060.0 L818.9,1059.8 L819.4,1059.4 L820.1,1058.9 L821.1,1058.2 L822.4,1057.3 L823.9,1056.2 L825.7,1055.0 L827.8,1053.5 L830.2,1051.9 L832.3,1050.3 L834.1,1048.8 L835.5,1047.3 L836.7,1045.8 L837.6,1044.4 L838.2,1043.1 L838.5,1041.7 L838.5,1040.5 L838.4,1039.2 L838.2,1038.0 L837.8,1036.9 L837.3,1035.8 L836.8,1034.8 L836.1,1033.8 L835.3,1032.8 L834.3,1031.9 L833.3,1031.0 L832.3,1030.2 L831.2,1029.5 L830.0,1028.8 L828.8,1028.1 L827.5,1027.5 L826.1,1026.9 L824.7,1026.4 L823.4,1026.0 L822.3,1025.6 L821.3,1025.2 L820.5,1024.9 L819.9,1024.7 L819.4,1024.5 L819.0,1024.4 L818.9,1024.3 L818.7,1024.2 L818.5,1024.0 L818.3,1023.9 L818.2,1023.8 L818.0,1023.7 L817.9,1023.6 L817.7,1023.4 L817.6,1023.3 L817.4,1023.1 L817.3,1023.0 L817.2,1022.8 L817.1,1022.6 L816.9,1022.5 L816.8,1022.3 L816.7,1022.1 L816.6,1022.0 L816.6,1021.8 L816.5,1021.6 L816.4,1021.4 L816.3,1021.2 L816.3,1021.0 L816.2,1020.8 L816.2,1020.6 L816.1,1020.4 L816.1,1020.2 L816.1,1020.0 L816.1,1019.8 L816.1,1019.6 L816.1,1019.4 L816.1,1019.2 L816.1,1019.0 L816.1,1018.8 L816.2,1018.2 L816.5,1017.2 L816.8,1015.9 L817.2,1014.2 L817.8,1012.1 L818.5,1009.6 L819.2,1006.8 L820.1,1003.5 L820.8,1000.4 L821.4,997.4 L821.9,994.6 L822.2,991.9 L822.4,989.3 L822.5,986.8 L822.4,984.5 L822.3,982.3 L822.1,980.1 L821.8,977.9 L821.6,975.8 L821.3,973.7 L821.1,971.5 L820.8,969.4 L820.5,967.3 L820.1,965.3 L819.9,963.1 L819.6,961.0 L819.5,958.7 L819.4,956.4 L819.3,954.1 L819.3,951.7 L819.3,949.2 L819.4,946.8 L819.5,944.2 L819.5,941.6 L819.6,939.0 L819.6,936.3 L819.7,933.5 L819.7,930.8 L819.7,927.9 L819.7,925.1 L819.7,922.4 L819.6,919.8 L819.5,917.4 L819.3,915.2 L819.1,913.2 L818.9,911.3 L818.6,909.6 L818.4,908.0 L818.0,906.5 L817.6,905.1 L817.2,903.8 L816.8,902.4 L816.3,901.2 L815.8,900.0 L815.2,898.9 L814.6,897.9 L813.9,896.9 L813.2,895.9 L812.5,895.0 L811.6,894.1 L810.8,893.2 L809.8,892.4 L808.8,891.6 L807.8,890.8 L806.7,890.0 L805.5,889.2 L804.2,888.3 L802.9,887.3 L801.5,886.3 L800.0,885.3 L798.5,884.2 L796.9,883.0 L795.5,882.0 L794.2,881.1 L793.2,880.3 L792.3,879.6 L791.5,879.1 L791.0,878.6 L790.6,878.3 L790.4,878.1 L790.2,877.9 L790.0,877.7 L789.9,877.5 L789.7,877.3 L789.5,877.1 L789.4,876.8 L789.2,876.6 L789.1,876.4 L789.0,876.1 L788.8,875.9 L788.7,875.6 L788.6,875.4 L788.5,875.1 L788.4,874.8 L788.4,874.6 L788.3,874.3 L788.2,874.0 L788.2,873.8 L788.1,873.5 L788.1,873.2 L788.1,872.9 L788.1,872.7 L788.1,872.4 L788.1,872.1 L788.1,871.8 L788.1,871.6 L788.2,871.3 L788.2,871.0 L788.3,870.7 L788.3,870.5 L788.4,870.2 L788.5,869.9 L788.6,869.7 L788.7,869.4 L788.8,869.2 L788.9,868.9 L789.1,868.7 L789.2,868.4 L789.3,868.2 L789.5,868.0 L789.7,867.7 L789.8,867.5 L790.0,867.3 L790.2,867.1 L790.4,866.9 L790.6,866.7 L790.8,866.5 L791.0,866.3 L791.2,866.2 L791.4,866.0 L791.7,865.9 L791.9,865.7 L792.2,865.6 L792.4,865.4 L792.6,865.3 L792.9,865.2 L793.2,865.1 L793.4,865.0 L793.7,864.9 L793.9,864.8 L794.2,864.8 L794.5,864.7 L794.8,864.7 L795.0,864.6 L795.3,864.6 L795.6,864.6 L795.9,864.6 L796.1,864.6 L796.4,864.6 L796.7,864.6 L797.0,864.6 L797.2,864.7 L797.6,864.7 L798.0,864.8 L798.4,864.9 L798.9,865.0 L799.5,865.2 L800.1,865.4 L800.8,865.5 L801.5,865.8 L802.4,866.0 L803.3,866.3 L804.3,866.6 L805.4,866.9 L806.6,867.3 L807.9,867.7 L809.4,868.1 L810.9,868.5 L812.4,869.0 L814.0,869.4 L815.7,869.8 L817.4,870.2 L819.2,870.6 L821.1,871.0 L823.0,871.4 L824.9,871.8 L826.8,872.1 L828.5,872.3 L830.1,872.5 L831.6,872.5 L833.0,872.5 L834.3,872.5 L835.5,872.3 L836.5,872.1 L837.6,871.7 L838.7,871.2 L839.9,870.5 L841.1,869.6 L842.3,868.6 L843.6,867.4 L844.9,866.0 L846.3,864.5 L847.6,863.0 L849.0,861.4 L850.3,859.7 L851.7,858.0 L853.0,856.2 L854.4,854.3 L855.8,852.4 L857.1,850.5 L858.4,848.6 L859.7,846.7 L860.9,844.9 L862.0,843.2 L863.1,841.5 L864.1,839.9 L865.1,838.4 L865.9,836.9 L866.8,835.4 L867.5,833.9 L868.1,832.5 L868.6,831.0 L869.0,829.6 L869.4,828.2 L869.6,826.8 L869.8,825.5 L869.8,824.0 L869.8,822.5 L869.8,820.9 L869.6,819.3 L869.4,817.6 L869.1,815.8 L868.7,813.9 L868.3,811.9 L867.9,810.0 L867.5,808.1 L867.1,806.3 L866.8,804.5 L866.5,802.7 L866.2,801.0 L866.0,799.3 L865.8,797.7 L865.6,796.2 L865.4,794.9 L865.3,793.7 L865.2,792.8 L865.1,792.0 L865.1,791.4Z" fill="#b6b7e7" stroke="#8485be" stroke-width="3.8" stroke-linejoin="round"/><path d="M900.4,914.5 C909.1,913.8 918.0,917.6 930.0,922.0 C942.0,926.4 958.5,934.7 972.6,941.0 C986.7,947.3 1003.7,953.7 1014.4,960.0 C1025.1,966.3 1030.9,972.2 1036.7,978.9 C1042.5,985.6 1046.7,993.8 1049.0,1000.0 C1051.3,1006.2 1051.3,1008.8 1050.5,1016.0 C1049.7,1023.2 1047.6,1035.7 1044.0,1043.0 C1040.4,1050.3 1034.0,1055.5 1028.8,1060.0 C1023.5,1064.5 1019.4,1066.5 1012.5,1070.0 C1005.6,1073.5 996.9,1078.8 987.5,1081.3 C978.1,1083.8 966.7,1085.4 956.3,1085.0 C945.9,1084.6 934.4,1082.1 925.0,1078.8 C915.6,1075.5 907.1,1071.2 900.0,1065.0 C892.9,1058.8 887.2,1049.1 882.3,1041.8 C877.4,1034.5 873.6,1029.0 870.6,1021.4 C867.6,1013.9 865.4,1005.1 864.0,996.5 C862.6,987.9 862.1,978.6 862.5,970.0 C862.9,961.4 863.9,952.3 866.5,945.0 C869.1,937.7 872.4,931.1 878.0,926.0 C883.6,920.9 891.7,915.2 900.4,914.5Z" fill="#9592c8" stroke="#8482ba" stroke-width="3"/></g>
<defs><linearGradient id="dcg1" gradientUnits="userSpaceOnUse" x1="873" y1="875" x2="885" y2="815"><stop offset="0" stop-color="#111" stop-opacity="0"/><stop offset="0.5" stop-color="#111"/></linearGradient><linearGradient id="dcg2" gradientUnits="userSpaceOnUse" x1="880" y1="882" x2="960" y2="815"><stop offset="0" stop-color="#111" stop-opacity="0"/><stop offset="0.45" stop-color="#111"/></linearGradient><linearGradient id="dcg3" gradientUnits="userSpaceOnUse" x1="886" y1="893" x2="1035" y2="822"><stop offset="0" stop-color="#111" stop-opacity="0"/><stop offset="0.4" stop-color="#111"/></linearGradient></defs>
<path d="M871,876 Q885,850 884,827" fill="none" stroke="url(#dcg1)" stroke-width="4.2"/>
<path d="M876.3,810 L877,830 L894,819.5 Z" fill="#111"/>
<path d="M879.7,882 Q930,862 958.5,822" fill="none" stroke="url(#dcg2)" stroke-width="4.2"/>
<path d="M966,808.5 L951.5,821.5 L968.5,828 Z" fill="#111"/>
<path d="M883.2,893 Q990,872 1030,829" fill="none" stroke="url(#dcg3)" stroke-width="4.2"/>
<path d="M1037,813.5 L1023,830 L1041.5,834 Z" fill="#111"/>
<use href="#np" transform="translate(550.7,679)"/>
<path d="M545.6,753 L545.6,890.3 L822,890.3" fill="none" stroke="#111" stroke-width="3.5" stroke-linejoin="round"/>
<path d="M837,890.3 L819.5,880.8 L819.5,899.8 Z" fill="#111"/>
<text x="58.5" y="101.2" font-size="41.0" fill="#000" textLength="203.5" lengthAdjust="spacingAndGlyphs">Tumor cells</text>
<text x="259.0" y="335.0" font-size="41.0" fill="#000" textLength="90.5" lengthAdjust="spacingAndGlyphs">Lysis</text>
<text x="249.3" y="445.4" font-size="41.5" fill="#000" textLength="119.5" lengthAdjust="spacingAndGlyphs">T cells</text>
<text x="223.0" y="1030.0" font-size="41.0" fill="#000" textLength="224.5" lengthAdjust="spacingAndGlyphs">Lymph node</text>
<text x="964.5" y="76.5" font-size="42.0" fill="#000" textLength="263.0" lengthAdjust="spacingAndGlyphs">Enlarged View</text>
<text x="542.5" y="163.7" font-size="39.0" fill="#823a6e" textLength="354.0" lengthAdjust="spacingAndGlyphs">Sensitizes the T cell</text>
<text x="543.5" y="207.0" font-size="39.0" fill="#823a6e" textLength="213.0" lengthAdjust="spacingAndGlyphs">to activation</text>
<text x="543.8" y="463.9" font-size="39.0" fill="#000" textLength="250.5" lengthAdjust="spacingAndGlyphs">Internalization</text>
<text x="881.0" y="507.3" font-size="39.0" fill="#000" textLength="169.0" lengthAdjust="spacingAndGlyphs">Squalene</text>
<text x="1094.5" y="629.7" font-size="39.0" fill="#823a6e" textLength="152.8" lengthAdjust="spacingAndGlyphs">Lipid raft</text>
<text x="543.3" y="932.7" font-size="39.0" fill="#000" textLength="250.3" lengthAdjust="spacingAndGlyphs">Internalization</text></svg></body></html>
